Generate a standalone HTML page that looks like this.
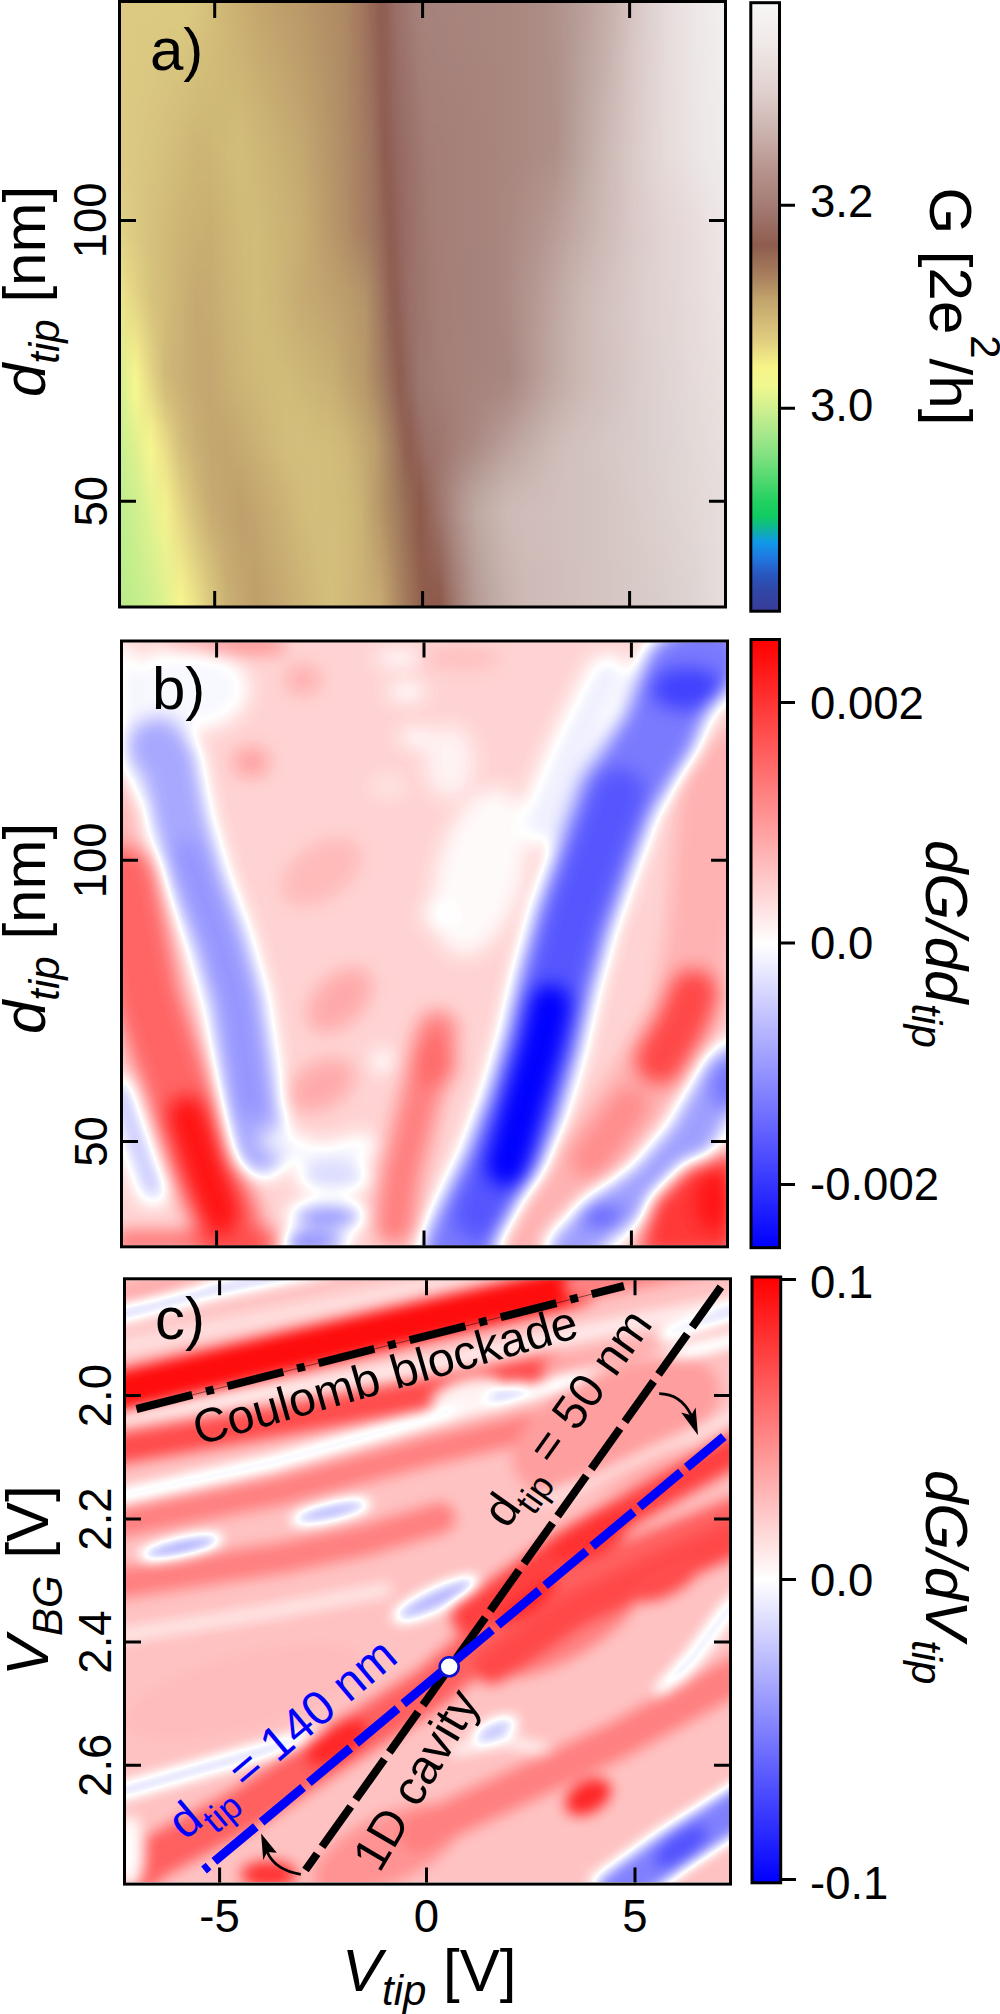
<!DOCTYPE html>
<html><head><meta charset="utf-8">
<style>
html,body{margin:0;padding:0;background:#fff;width:1000px;height:2014px;overflow:hidden}
svg{position:absolute;left:0;top:0}
text{font-family:"Liberation Sans",sans-serif;fill:#000}
.tl{font-size:45.5px}
.ti{font-size:60px}
.it{font-style:italic}
</style></head>
<body>
<svg width="1000" height="2014" viewBox="0 0 1000 2014">
<!-- HEATMAPS -->
<defs><linearGradient id="ga0"><stop offset="0.0000" stop-color="#dcca82"/><stop offset="0.0249" stop-color="#dcca82"/><stop offset="0.0498" stop-color="#dcca82"/><stop offset="0.0746" stop-color="#dcca82"/><stop offset="0.0995" stop-color="#dcca82"/><stop offset="0.1244" stop-color="#dac780"/><stop offset="0.1493" stop-color="#d4be7a"/><stop offset="0.1741" stop-color="#ceb675"/><stop offset="0.1990" stop-color="#c9ad71"/><stop offset="0.2239" stop-color="#c5a66d"/><stop offset="0.2488" stop-color="#c1a16b"/><stop offset="0.2736" stop-color="#bd9c6a"/><stop offset="0.2985" stop-color="#ba9868"/><stop offset="0.3234" stop-color="#b69266"/><stop offset="0.3483" stop-color="#b18d64"/><stop offset="0.3731" stop-color="#ad8762"/><stop offset="0.3964" stop-color="#a3795e"/><stop offset="0.4046" stop-color="#9f725b"/><stop offset="0.4129" stop-color="#9a6b59"/><stop offset="0.4212" stop-color="#956455"/><stop offset="0.4295" stop-color="#905d51"/><stop offset="0.4378" stop-color="#915f55"/><stop offset="0.4461" stop-color="#95675e"/><stop offset="0.4544" stop-color="#996e66"/><stop offset="0.4627" stop-color="#9c736b"/><stop offset="0.4710" stop-color="#9e7770"/><stop offset="0.4793" stop-color="#a17a74"/><stop offset="0.4876" stop-color="#a47e78"/><stop offset="0.4959" stop-color="#a6827c"/><stop offset="0.5041" stop-color="#a6827c"/><stop offset="0.5124" stop-color="#a6827c"/><stop offset="0.5207" stop-color="#a6837c"/><stop offset="0.5290" stop-color="#a6837c"/><stop offset="0.5373" stop-color="#a7837d"/><stop offset="0.5456" stop-color="#a7847d"/><stop offset="0.5622" stop-color="#a7847d"/><stop offset="0.5887" stop-color="#a7857d"/><stop offset="0.6153" stop-color="#a8867e"/><stop offset="0.6418" stop-color="#a9877f"/><stop offset="0.6683" stop-color="#aa8981"/><stop offset="0.6949" stop-color="#ac8c84"/><stop offset="0.7214" stop-color="#af928a"/><stop offset="0.7479" stop-color="#b39992"/><stop offset="0.7745" stop-color="#bba29c"/><stop offset="0.8010" stop-color="#c3aba7"/><stop offset="0.8275" stop-color="#cdb9b6"/><stop offset="0.8541" stop-color="#d7c7c5"/><stop offset="0.8806" stop-color="#dfd2d1"/><stop offset="0.9071" stop-color="#e6dcdc"/><stop offset="0.9337" stop-color="#eae2e2"/><stop offset="0.9602" stop-color="#eee8e8"/><stop offset="0.9867" stop-color="#f1ecec"/><stop offset="1.0000" stop-color="#f2eeee"/></linearGradient><linearGradient id="ga1"><stop offset="0.0000" stop-color="#dcca82"/><stop offset="0.0249" stop-color="#dcca82"/><stop offset="0.0498" stop-color="#dcc982"/><stop offset="0.0746" stop-color="#dbc982"/><stop offset="0.0995" stop-color="#dbc981"/><stop offset="0.1244" stop-color="#d9c57f"/><stop offset="0.1493" stop-color="#d3be79"/><stop offset="0.1741" stop-color="#ceb675"/><stop offset="0.1990" stop-color="#caaf71"/><stop offset="0.2239" stop-color="#c5a86e"/><stop offset="0.2488" stop-color="#c2a36c"/><stop offset="0.2736" stop-color="#be9e6a"/><stop offset="0.2985" stop-color="#bb9969"/><stop offset="0.3234" stop-color="#b69367"/><stop offset="0.3483" stop-color="#b28e65"/><stop offset="0.3731" stop-color="#ad8863"/><stop offset="0.3964" stop-color="#a3795e"/><stop offset="0.4046" stop-color="#9f735c"/><stop offset="0.4129" stop-color="#9a6c59"/><stop offset="0.4212" stop-color="#956556"/><stop offset="0.4295" stop-color="#905e52"/><stop offset="0.4378" stop-color="#905e55"/><stop offset="0.4461" stop-color="#94665d"/><stop offset="0.4544" stop-color="#996e65"/><stop offset="0.4627" stop-color="#9b726b"/><stop offset="0.4710" stop-color="#9e766f"/><stop offset="0.4793" stop-color="#a07a73"/><stop offset="0.4876" stop-color="#a37d77"/><stop offset="0.4959" stop-color="#a5817b"/><stop offset="0.5041" stop-color="#a6827b"/><stop offset="0.5124" stop-color="#a6827c"/><stop offset="0.5207" stop-color="#a6827c"/><stop offset="0.5290" stop-color="#a6837c"/><stop offset="0.5373" stop-color="#a6837c"/><stop offset="0.5456" stop-color="#a7837c"/><stop offset="0.5622" stop-color="#a7847d"/><stop offset="0.5887" stop-color="#a7857d"/><stop offset="0.6153" stop-color="#a8857e"/><stop offset="0.6418" stop-color="#a9877f"/><stop offset="0.6683" stop-color="#aa8981"/><stop offset="0.6949" stop-color="#ac8c84"/><stop offset="0.7214" stop-color="#af918a"/><stop offset="0.7479" stop-color="#b39993"/><stop offset="0.7745" stop-color="#bba29d"/><stop offset="0.8010" stop-color="#c4aca8"/><stop offset="0.8275" stop-color="#ceb9b6"/><stop offset="0.8541" stop-color="#d8c7c5"/><stop offset="0.8806" stop-color="#dfd2d1"/><stop offset="0.9071" stop-color="#e6dcdc"/><stop offset="0.9337" stop-color="#eae2e2"/><stop offset="0.9602" stop-color="#eee8e8"/><stop offset="0.9867" stop-color="#f1ecec"/><stop offset="1.0000" stop-color="#f2eeee"/></linearGradient><linearGradient id="ga2"><stop offset="0.0000" stop-color="#dcca82"/><stop offset="0.0249" stop-color="#dbc982"/><stop offset="0.0498" stop-color="#dbc981"/><stop offset="0.0746" stop-color="#dac881"/><stop offset="0.0995" stop-color="#dac780"/><stop offset="0.1244" stop-color="#d7c37d"/><stop offset="0.1493" stop-color="#d2bd79"/><stop offset="0.1741" stop-color="#cfb776"/><stop offset="0.1990" stop-color="#cbb173"/><stop offset="0.2239" stop-color="#c7aa6f"/><stop offset="0.2488" stop-color="#c3a56e"/><stop offset="0.2736" stop-color="#c0a06c"/><stop offset="0.2985" stop-color="#bc9b6a"/><stop offset="0.3234" stop-color="#b79567"/><stop offset="0.3483" stop-color="#b28f65"/><stop offset="0.3731" stop-color="#ae8863"/><stop offset="0.3964" stop-color="#a47a5f"/><stop offset="0.4046" stop-color="#a0745d"/><stop offset="0.4129" stop-color="#9b6d5a"/><stop offset="0.4212" stop-color="#966657"/><stop offset="0.4295" stop-color="#915f52"/><stop offset="0.4378" stop-color="#905e54"/><stop offset="0.4461" stop-color="#94655c"/><stop offset="0.4544" stop-color="#986c64"/><stop offset="0.4627" stop-color="#9b7169"/><stop offset="0.4710" stop-color="#9d756d"/><stop offset="0.4793" stop-color="#a07871"/><stop offset="0.4876" stop-color="#a27c75"/><stop offset="0.4959" stop-color="#a58079"/><stop offset="0.5041" stop-color="#a5817a"/><stop offset="0.5124" stop-color="#a6827b"/><stop offset="0.5207" stop-color="#a6827b"/><stop offset="0.5290" stop-color="#a6827b"/><stop offset="0.5373" stop-color="#a6827b"/><stop offset="0.5456" stop-color="#a6837c"/><stop offset="0.5622" stop-color="#a7837c"/><stop offset="0.5887" stop-color="#a7847d"/><stop offset="0.6153" stop-color="#a8857d"/><stop offset="0.6418" stop-color="#a9877f"/><stop offset="0.6683" stop-color="#aa8981"/><stop offset="0.6949" stop-color="#ac8c84"/><stop offset="0.7214" stop-color="#af918a"/><stop offset="0.7479" stop-color="#b49a93"/><stop offset="0.7745" stop-color="#bca39e"/><stop offset="0.8010" stop-color="#c5ada9"/><stop offset="0.8275" stop-color="#cebab7"/><stop offset="0.8541" stop-color="#d8c8c6"/><stop offset="0.8806" stop-color="#dfd2d1"/><stop offset="0.9071" stop-color="#e6dcdc"/><stop offset="0.9337" stop-color="#eae2e2"/><stop offset="0.9602" stop-color="#eee8e8"/><stop offset="0.9867" stop-color="#f0ecec"/><stop offset="1.0000" stop-color="#f2eeee"/></linearGradient><linearGradient id="ga3"><stop offset="0.0000" stop-color="#dcca82"/><stop offset="0.0249" stop-color="#dbc981"/><stop offset="0.0498" stop-color="#dac881"/><stop offset="0.0746" stop-color="#d9c680"/><stop offset="0.0995" stop-color="#d8c57f"/><stop offset="0.1244" stop-color="#d5c17c"/><stop offset="0.1493" stop-color="#d1bc78"/><stop offset="0.1741" stop-color="#cfb776"/><stop offset="0.1990" stop-color="#ccb374"/><stop offset="0.2239" stop-color="#c8ac71"/><stop offset="0.2488" stop-color="#c4a76f"/><stop offset="0.2736" stop-color="#c1a26d"/><stop offset="0.2985" stop-color="#bd9d6b"/><stop offset="0.3234" stop-color="#b89668"/><stop offset="0.3483" stop-color="#b39066"/><stop offset="0.3731" stop-color="#ae8964"/><stop offset="0.3964" stop-color="#a47b5f"/><stop offset="0.4046" stop-color="#a0755e"/><stop offset="0.4129" stop-color="#9c6f5b"/><stop offset="0.4212" stop-color="#976858"/><stop offset="0.4295" stop-color="#916053"/><stop offset="0.4378" stop-color="#905e53"/><stop offset="0.4461" stop-color="#93645b"/><stop offset="0.4544" stop-color="#976b63"/><stop offset="0.4627" stop-color="#9a7068"/><stop offset="0.4710" stop-color="#9c736c"/><stop offset="0.4793" stop-color="#9f7770"/><stop offset="0.4876" stop-color="#a17b74"/><stop offset="0.4959" stop-color="#a47e78"/><stop offset="0.5041" stop-color="#a58079"/><stop offset="0.5124" stop-color="#a5817a"/><stop offset="0.5207" stop-color="#a6817a"/><stop offset="0.5290" stop-color="#a6827b"/><stop offset="0.5373" stop-color="#a6827b"/><stop offset="0.5456" stop-color="#a6827b"/><stop offset="0.5622" stop-color="#a7837b"/><stop offset="0.5887" stop-color="#a7847c"/><stop offset="0.6153" stop-color="#a8857d"/><stop offset="0.6418" stop-color="#a9877f"/><stop offset="0.6683" stop-color="#aa8981"/><stop offset="0.6949" stop-color="#ac8c84"/><stop offset="0.7214" stop-color="#af9189"/><stop offset="0.7479" stop-color="#b49a94"/><stop offset="0.7745" stop-color="#bda59f"/><stop offset="0.8010" stop-color="#c6afab"/><stop offset="0.8275" stop-color="#cfbcb9"/><stop offset="0.8541" stop-color="#d9c9c7"/><stop offset="0.8806" stop-color="#e0d2d1"/><stop offset="0.9071" stop-color="#e6dcdb"/><stop offset="0.9337" stop-color="#eae2e1"/><stop offset="0.9602" stop-color="#ede8e8"/><stop offset="0.9867" stop-color="#f0ebeb"/><stop offset="1.0000" stop-color="#f1eded"/></linearGradient><linearGradient id="ga4"><stop offset="0.0000" stop-color="#dcca82"/><stop offset="0.0249" stop-color="#dbc981"/><stop offset="0.0498" stop-color="#dac781"/><stop offset="0.0746" stop-color="#d8c57f"/><stop offset="0.0995" stop-color="#d7c37d"/><stop offset="0.1244" stop-color="#d3be7a"/><stop offset="0.1493" stop-color="#d1bb78"/><stop offset="0.1741" stop-color="#cfb876"/><stop offset="0.1990" stop-color="#cdb575"/><stop offset="0.2239" stop-color="#c9af72"/><stop offset="0.2488" stop-color="#c6aa70"/><stop offset="0.2736" stop-color="#c2a56e"/><stop offset="0.2985" stop-color="#bf9f6c"/><stop offset="0.3234" stop-color="#b99869"/><stop offset="0.3483" stop-color="#b49167"/><stop offset="0.3731" stop-color="#ae8964"/><stop offset="0.3964" stop-color="#a57c60"/><stop offset="0.4046" stop-color="#a1765e"/><stop offset="0.4129" stop-color="#9d705c"/><stop offset="0.4212" stop-color="#986959"/><stop offset="0.4295" stop-color="#926154"/><stop offset="0.4378" stop-color="#8f5d53"/><stop offset="0.4461" stop-color="#93645a"/><stop offset="0.4544" stop-color="#966a61"/><stop offset="0.4627" stop-color="#996f67"/><stop offset="0.4710" stop-color="#9b726b"/><stop offset="0.4793" stop-color="#9e766e"/><stop offset="0.4876" stop-color="#a07972"/><stop offset="0.4959" stop-color="#a37d76"/><stop offset="0.5041" stop-color="#a47f78"/><stop offset="0.5124" stop-color="#a58079"/><stop offset="0.5207" stop-color="#a58179"/><stop offset="0.5290" stop-color="#a6817a"/><stop offset="0.5373" stop-color="#a6817a"/><stop offset="0.5456" stop-color="#a6827a"/><stop offset="0.5622" stop-color="#a6827b"/><stop offset="0.5887" stop-color="#a7837c"/><stop offset="0.6153" stop-color="#a8847d"/><stop offset="0.6418" stop-color="#a9867e"/><stop offset="0.6683" stop-color="#aa8981"/><stop offset="0.6949" stop-color="#ac8c84"/><stop offset="0.7214" stop-color="#ae9089"/><stop offset="0.7479" stop-color="#b59b94"/><stop offset="0.7745" stop-color="#bda6a1"/><stop offset="0.8010" stop-color="#c7b0ac"/><stop offset="0.8275" stop-color="#d0bdba"/><stop offset="0.8541" stop-color="#d9c9c7"/><stop offset="0.8806" stop-color="#e0d3d1"/><stop offset="0.9071" stop-color="#e6dcdb"/><stop offset="0.9337" stop-color="#eae2e1"/><stop offset="0.9602" stop-color="#ede7e7"/><stop offset="0.9867" stop-color="#f0ebeb"/><stop offset="1.0000" stop-color="#f1eded"/></linearGradient><linearGradient id="ga5"><stop offset="0.0000" stop-color="#dcca82"/><stop offset="0.0249" stop-color="#dbc881"/><stop offset="0.0498" stop-color="#d9c680"/><stop offset="0.0746" stop-color="#d7c47f"/><stop offset="0.0995" stop-color="#d5c07c"/><stop offset="0.1244" stop-color="#d2bc79"/><stop offset="0.1493" stop-color="#d0ba77"/><stop offset="0.1741" stop-color="#cfb977"/><stop offset="0.1990" stop-color="#ceb776"/><stop offset="0.2239" stop-color="#cbb174"/><stop offset="0.2488" stop-color="#c7ac71"/><stop offset="0.2736" stop-color="#c4a76f"/><stop offset="0.2985" stop-color="#c0a16d"/><stop offset="0.3234" stop-color="#ba9a6a"/><stop offset="0.3483" stop-color="#b49267"/><stop offset="0.3731" stop-color="#ae8a65"/><stop offset="0.3964" stop-color="#a57c61"/><stop offset="0.4046" stop-color="#a1775f"/><stop offset="0.4129" stop-color="#9d725d"/><stop offset="0.4212" stop-color="#986a5a"/><stop offset="0.4295" stop-color="#936254"/><stop offset="0.4378" stop-color="#8f5d52"/><stop offset="0.4461" stop-color="#926359"/><stop offset="0.4544" stop-color="#966960"/><stop offset="0.4627" stop-color="#986d66"/><stop offset="0.4710" stop-color="#9b7169"/><stop offset="0.4793" stop-color="#9d746d"/><stop offset="0.4876" stop-color="#9f7870"/><stop offset="0.4959" stop-color="#a27b74"/><stop offset="0.5041" stop-color="#a37e76"/><stop offset="0.5124" stop-color="#a58078"/><stop offset="0.5207" stop-color="#a58079"/><stop offset="0.5290" stop-color="#a58079"/><stop offset="0.5373" stop-color="#a68179"/><stop offset="0.5456" stop-color="#a6817a"/><stop offset="0.5622" stop-color="#a6827a"/><stop offset="0.5887" stop-color="#a7837b"/><stop offset="0.6153" stop-color="#a8847c"/><stop offset="0.6418" stop-color="#a9867e"/><stop offset="0.6683" stop-color="#aa8981"/><stop offset="0.6949" stop-color="#ac8c84"/><stop offset="0.7214" stop-color="#ae9088"/><stop offset="0.7479" stop-color="#b59b95"/><stop offset="0.7745" stop-color="#bea7a2"/><stop offset="0.8010" stop-color="#c8b2ae"/><stop offset="0.8275" stop-color="#d1bebb"/><stop offset="0.8541" stop-color="#dacac8"/><stop offset="0.8806" stop-color="#e0d3d1"/><stop offset="0.9071" stop-color="#e6dcdb"/><stop offset="0.9337" stop-color="#e9e2e1"/><stop offset="0.9602" stop-color="#ede7e7"/><stop offset="0.9867" stop-color="#efebeb"/><stop offset="1.0000" stop-color="#f1eded"/></linearGradient><linearGradient id="ga6"><stop offset="0.0000" stop-color="#dcca82"/><stop offset="0.0249" stop-color="#dac881"/><stop offset="0.0498" stop-color="#d9c580"/><stop offset="0.0746" stop-color="#d6c27e"/><stop offset="0.0995" stop-color="#d4be7b"/><stop offset="0.1244" stop-color="#d0ba78"/><stop offset="0.1493" stop-color="#cfb977"/><stop offset="0.1741" stop-color="#cfb977"/><stop offset="0.1990" stop-color="#d0ba78"/><stop offset="0.2239" stop-color="#ccb475"/><stop offset="0.2488" stop-color="#c8ae73"/><stop offset="0.2736" stop-color="#c5a970"/><stop offset="0.2985" stop-color="#c1a36e"/><stop offset="0.3234" stop-color="#bb9b6b"/><stop offset="0.3483" stop-color="#b59368"/><stop offset="0.3731" stop-color="#af8a65"/><stop offset="0.3964" stop-color="#a57d61"/><stop offset="0.4046" stop-color="#a27860"/><stop offset="0.4129" stop-color="#9e735f"/><stop offset="0.4212" stop-color="#996c5b"/><stop offset="0.4295" stop-color="#936355"/><stop offset="0.4378" stop-color="#8f5d51"/><stop offset="0.4461" stop-color="#926258"/><stop offset="0.4544" stop-color="#95685f"/><stop offset="0.4627" stop-color="#976c64"/><stop offset="0.4710" stop-color="#9a7068"/><stop offset="0.4793" stop-color="#9c736b"/><stop offset="0.4876" stop-color="#9f776f"/><stop offset="0.4959" stop-color="#a17a72"/><stop offset="0.5041" stop-color="#a37d75"/><stop offset="0.5124" stop-color="#a57f78"/><stop offset="0.5207" stop-color="#a57f78"/><stop offset="0.5290" stop-color="#a58078"/><stop offset="0.5373" stop-color="#a58079"/><stop offset="0.5456" stop-color="#a68179"/><stop offset="0.5622" stop-color="#a6817a"/><stop offset="0.5887" stop-color="#a7837b"/><stop offset="0.6153" stop-color="#a8847c"/><stop offset="0.6418" stop-color="#a9867e"/><stop offset="0.6683" stop-color="#aa8981"/><stop offset="0.6949" stop-color="#ac8c84"/><stop offset="0.7214" stop-color="#ae9088"/><stop offset="0.7479" stop-color="#b59c95"/><stop offset="0.7745" stop-color="#bfa8a3"/><stop offset="0.8010" stop-color="#c9b4af"/><stop offset="0.8275" stop-color="#d2bfbc"/><stop offset="0.8541" stop-color="#dacac8"/><stop offset="0.8806" stop-color="#e0d3d1"/><stop offset="0.9071" stop-color="#e6dcda"/><stop offset="0.9337" stop-color="#e9e1e1"/><stop offset="0.9602" stop-color="#ede7e7"/><stop offset="0.9867" stop-color="#efebeb"/><stop offset="1.0000" stop-color="#f0ecec"/></linearGradient><linearGradient id="ga7"><stop offset="0.0000" stop-color="#dcca82"/><stop offset="0.0249" stop-color="#dac781"/><stop offset="0.0498" stop-color="#d8c57f"/><stop offset="0.0746" stop-color="#d5c17d"/><stop offset="0.0995" stop-color="#d2bc7a"/><stop offset="0.1244" stop-color="#ceb776"/><stop offset="0.1493" stop-color="#ceb876"/><stop offset="0.1741" stop-color="#d0ba78"/><stop offset="0.1990" stop-color="#d1bc79"/><stop offset="0.2239" stop-color="#cdb676"/><stop offset="0.2488" stop-color="#cab174"/><stop offset="0.2736" stop-color="#c6ab71"/><stop offset="0.2985" stop-color="#c2a66f"/><stop offset="0.3234" stop-color="#bc9d6c"/><stop offset="0.3483" stop-color="#b69469"/><stop offset="0.3731" stop-color="#af8b65"/><stop offset="0.3964" stop-color="#a67e62"/><stop offset="0.4046" stop-color="#a27961"/><stop offset="0.4129" stop-color="#9f7560"/><stop offset="0.4212" stop-color="#9a6d5b"/><stop offset="0.4295" stop-color="#946456"/><stop offset="0.4378" stop-color="#8e5c51"/><stop offset="0.4461" stop-color="#916157"/><stop offset="0.4544" stop-color="#94665d"/><stop offset="0.4627" stop-color="#976b63"/><stop offset="0.4710" stop-color="#996e66"/><stop offset="0.4793" stop-color="#9b726a"/><stop offset="0.4876" stop-color="#9e756d"/><stop offset="0.4959" stop-color="#a07971"/><stop offset="0.5041" stop-color="#a27c74"/><stop offset="0.5124" stop-color="#a47f77"/><stop offset="0.5207" stop-color="#a57f77"/><stop offset="0.5290" stop-color="#a57f77"/><stop offset="0.5373" stop-color="#a58078"/><stop offset="0.5456" stop-color="#a58078"/><stop offset="0.5622" stop-color="#a68179"/><stop offset="0.5887" stop-color="#a7827a"/><stop offset="0.6153" stop-color="#a8847c"/><stop offset="0.6418" stop-color="#a9867e"/><stop offset="0.6683" stop-color="#aa8981"/><stop offset="0.6949" stop-color="#ac8c84"/><stop offset="0.7214" stop-color="#ae8f88"/><stop offset="0.7479" stop-color="#b69c96"/><stop offset="0.7745" stop-color="#c0a9a4"/><stop offset="0.8010" stop-color="#cab5b1"/><stop offset="0.8275" stop-color="#d3c0bd"/><stop offset="0.8541" stop-color="#dbcbc9"/><stop offset="0.8806" stop-color="#e1d4d2"/><stop offset="0.9071" stop-color="#e6dcda"/><stop offset="0.9337" stop-color="#e9e1e0"/><stop offset="0.9602" stop-color="#ece6e6"/><stop offset="0.9867" stop-color="#efeaea"/><stop offset="1.0000" stop-color="#f0ecec"/></linearGradient><linearGradient id="ga8"><stop offset="0.0000" stop-color="#dcca82"/><stop offset="0.0249" stop-color="#dac780"/><stop offset="0.0498" stop-color="#d7c47f"/><stop offset="0.0746" stop-color="#d4c07c"/><stop offset="0.0995" stop-color="#d1ba79"/><stop offset="0.1244" stop-color="#cdb575"/><stop offset="0.1493" stop-color="#cdb675"/><stop offset="0.1741" stop-color="#d0ba78"/><stop offset="0.1990" stop-color="#d2be7a"/><stop offset="0.2239" stop-color="#ceb877"/><stop offset="0.2488" stop-color="#cbb375"/><stop offset="0.2736" stop-color="#c7ad72"/><stop offset="0.2985" stop-color="#c4a870"/><stop offset="0.3234" stop-color="#bd9e6c"/><stop offset="0.3483" stop-color="#b69569"/><stop offset="0.3731" stop-color="#af8b66"/><stop offset="0.3964" stop-color="#a67f63"/><stop offset="0.4046" stop-color="#a37a62"/><stop offset="0.4129" stop-color="#9f7660"/><stop offset="0.4212" stop-color="#9a6f5c"/><stop offset="0.4295" stop-color="#946556"/><stop offset="0.4378" stop-color="#8e5c50"/><stop offset="0.4461" stop-color="#906056"/><stop offset="0.4544" stop-color="#93655c"/><stop offset="0.4627" stop-color="#966a62"/><stop offset="0.4710" stop-color="#986d65"/><stop offset="0.4793" stop-color="#9b7169"/><stop offset="0.4876" stop-color="#9d746c"/><stop offset="0.4959" stop-color="#9f776f"/><stop offset="0.5041" stop-color="#a27b73"/><stop offset="0.5124" stop-color="#a47e76"/><stop offset="0.5207" stop-color="#a47e76"/><stop offset="0.5290" stop-color="#a57f77"/><stop offset="0.5373" stop-color="#a57f77"/><stop offset="0.5456" stop-color="#a58078"/><stop offset="0.5622" stop-color="#a68179"/><stop offset="0.5887" stop-color="#a7827a"/><stop offset="0.6153" stop-color="#a8837b"/><stop offset="0.6418" stop-color="#a9867e"/><stop offset="0.6683" stop-color="#ab8981"/><stop offset="0.6949" stop-color="#ac8c84"/><stop offset="0.7214" stop-color="#ae9088"/><stop offset="0.7479" stop-color="#b69d97"/><stop offset="0.7745" stop-color="#c1aaa5"/><stop offset="0.8010" stop-color="#cbb7b2"/><stop offset="0.8275" stop-color="#d3c1be"/><stop offset="0.8541" stop-color="#dbcbc9"/><stop offset="0.8806" stop-color="#e1d4d2"/><stop offset="0.9071" stop-color="#e6dcda"/><stop offset="0.9337" stop-color="#e9e1e0"/><stop offset="0.9602" stop-color="#ece6e6"/><stop offset="0.9867" stop-color="#efeaea"/><stop offset="1.0000" stop-color="#f0ecec"/></linearGradient><linearGradient id="ga9"><stop offset="0.0000" stop-color="#ddcc83"/><stop offset="0.0249" stop-color="#dac781"/><stop offset="0.0498" stop-color="#d7c37e"/><stop offset="0.0746" stop-color="#d3be7b"/><stop offset="0.0995" stop-color="#d0b977"/><stop offset="0.1244" stop-color="#ccb474"/><stop offset="0.1493" stop-color="#ccb474"/><stop offset="0.1741" stop-color="#cfb977"/><stop offset="0.1990" stop-color="#d1bd79"/><stop offset="0.2239" stop-color="#cfb978"/><stop offset="0.2488" stop-color="#ccb475"/><stop offset="0.2736" stop-color="#c8af73"/><stop offset="0.2985" stop-color="#c5a970"/><stop offset="0.3234" stop-color="#be9f6d"/><stop offset="0.3483" stop-color="#b79669"/><stop offset="0.3731" stop-color="#b08c66"/><stop offset="0.3964" stop-color="#a77f63"/><stop offset="0.4046" stop-color="#a37b62"/><stop offset="0.4129" stop-color="#a07661"/><stop offset="0.4212" stop-color="#9b705d"/><stop offset="0.4295" stop-color="#956757"/><stop offset="0.4378" stop-color="#8f5e51"/><stop offset="0.4461" stop-color="#8f5f54"/><stop offset="0.4544" stop-color="#92645a"/><stop offset="0.4627" stop-color="#956961"/><stop offset="0.4710" stop-color="#986d65"/><stop offset="0.4793" stop-color="#9a7068"/><stop offset="0.4876" stop-color="#9d736b"/><stop offset="0.4959" stop-color="#9f776f"/><stop offset="0.5041" stop-color="#a17a72"/><stop offset="0.5124" stop-color="#a37d75"/><stop offset="0.5207" stop-color="#a47e76"/><stop offset="0.5290" stop-color="#a47f77"/><stop offset="0.5373" stop-color="#a57f77"/><stop offset="0.5456" stop-color="#a58078"/><stop offset="0.5622" stop-color="#a68179"/><stop offset="0.5887" stop-color="#a7827a"/><stop offset="0.6153" stop-color="#a8847c"/><stop offset="0.6418" stop-color="#a9867f"/><stop offset="0.6683" stop-color="#ac8a83"/><stop offset="0.6949" stop-color="#ae8e87"/><stop offset="0.7214" stop-color="#b1938c"/><stop offset="0.7479" stop-color="#b9a09a"/><stop offset="0.7745" stop-color="#c2aca7"/><stop offset="0.8010" stop-color="#ccb7b3"/><stop offset="0.8275" stop-color="#d3c1be"/><stop offset="0.8541" stop-color="#dbcbc9"/><stop offset="0.8806" stop-color="#e0d3d1"/><stop offset="0.9071" stop-color="#e5dad8"/><stop offset="0.9337" stop-color="#e8dfde"/><stop offset="0.9602" stop-color="#ebe4e4"/><stop offset="0.9867" stop-color="#eee8e8"/><stop offset="1.0000" stop-color="#efeaea"/></linearGradient><linearGradient id="ga10"><stop offset="0.0000" stop-color="#decd83"/><stop offset="0.0249" stop-color="#dac881"/><stop offset="0.0498" stop-color="#d6c27e"/><stop offset="0.0746" stop-color="#d3bd7a"/><stop offset="0.0995" stop-color="#cfb776"/><stop offset="0.1244" stop-color="#ccb373"/><stop offset="0.1493" stop-color="#cbb273"/><stop offset="0.1741" stop-color="#ceb776"/><stop offset="0.1990" stop-color="#d1bc79"/><stop offset="0.2239" stop-color="#d0ba78"/><stop offset="0.2488" stop-color="#ccb576"/><stop offset="0.2736" stop-color="#c9b073"/><stop offset="0.2985" stop-color="#c6ab71"/><stop offset="0.3234" stop-color="#bfa16d"/><stop offset="0.3483" stop-color="#b89669"/><stop offset="0.3731" stop-color="#b18c66"/><stop offset="0.3964" stop-color="#a78063"/><stop offset="0.4046" stop-color="#a47b62"/><stop offset="0.4129" stop-color="#a07761"/><stop offset="0.4212" stop-color="#9c715e"/><stop offset="0.4295" stop-color="#966858"/><stop offset="0.4378" stop-color="#906053"/><stop offset="0.4461" stop-color="#8e5e53"/><stop offset="0.4544" stop-color="#926359"/><stop offset="0.4627" stop-color="#95685f"/><stop offset="0.4710" stop-color="#986d65"/><stop offset="0.4793" stop-color="#9a7068"/><stop offset="0.4876" stop-color="#9c736b"/><stop offset="0.4959" stop-color="#9f766e"/><stop offset="0.5041" stop-color="#a17971"/><stop offset="0.5124" stop-color="#a37c74"/><stop offset="0.5207" stop-color="#a47e76"/><stop offset="0.5290" stop-color="#a47f77"/><stop offset="0.5373" stop-color="#a57f77"/><stop offset="0.5456" stop-color="#a58078"/><stop offset="0.5622" stop-color="#a68179"/><stop offset="0.5887" stop-color="#a7827b"/><stop offset="0.6153" stop-color="#a8847c"/><stop offset="0.6418" stop-color="#aa8780"/><stop offset="0.6683" stop-color="#ad8c84"/><stop offset="0.6949" stop-color="#b09089"/><stop offset="0.7214" stop-color="#b49790"/><stop offset="0.7479" stop-color="#bba29d"/><stop offset="0.7745" stop-color="#c4aea9"/><stop offset="0.8010" stop-color="#ccb8b4"/><stop offset="0.8275" stop-color="#d4c1be"/><stop offset="0.8541" stop-color="#dbcbc8"/><stop offset="0.8806" stop-color="#e0d2d0"/><stop offset="0.9071" stop-color="#e4d8d6"/><stop offset="0.9337" stop-color="#e7dddc"/><stop offset="0.9602" stop-color="#eae2e2"/><stop offset="0.9867" stop-color="#ede7e6"/><stop offset="1.0000" stop-color="#efe9e9"/></linearGradient><linearGradient id="ga11"><stop offset="0.0000" stop-color="#dfcf84"/><stop offset="0.0249" stop-color="#dac881"/><stop offset="0.0498" stop-color="#d5c27d"/><stop offset="0.0746" stop-color="#d2bb79"/><stop offset="0.0995" stop-color="#ceb575"/><stop offset="0.1244" stop-color="#cbb273"/><stop offset="0.1493" stop-color="#c9b071"/><stop offset="0.1741" stop-color="#cdb675"/><stop offset="0.1990" stop-color="#d0bb78"/><stop offset="0.2239" stop-color="#d0bb79"/><stop offset="0.2488" stop-color="#cdb676"/><stop offset="0.2736" stop-color="#cab174"/><stop offset="0.2985" stop-color="#c7ac71"/><stop offset="0.3234" stop-color="#c0a26d"/><stop offset="0.3483" stop-color="#b9976a"/><stop offset="0.3731" stop-color="#b28d66"/><stop offset="0.3964" stop-color="#a88063"/><stop offset="0.4046" stop-color="#a47c62"/><stop offset="0.4129" stop-color="#a17761"/><stop offset="0.4212" stop-color="#9c725e"/><stop offset="0.4295" stop-color="#976a59"/><stop offset="0.4378" stop-color="#916254"/><stop offset="0.4461" stop-color="#8d5d51"/><stop offset="0.4544" stop-color="#916258"/><stop offset="0.4627" stop-color="#94675e"/><stop offset="0.4710" stop-color="#986c64"/><stop offset="0.4793" stop-color="#9a6f67"/><stop offset="0.4876" stop-color="#9c726a"/><stop offset="0.4959" stop-color="#9e756d"/><stop offset="0.5041" stop-color="#a07971"/><stop offset="0.5124" stop-color="#a27c74"/><stop offset="0.5207" stop-color="#a47e76"/><stop offset="0.5290" stop-color="#a47f77"/><stop offset="0.5373" stop-color="#a57f77"/><stop offset="0.5456" stop-color="#a58078"/><stop offset="0.5622" stop-color="#a68179"/><stop offset="0.5887" stop-color="#a7827b"/><stop offset="0.6153" stop-color="#a8847d"/><stop offset="0.6418" stop-color="#aa8880"/><stop offset="0.6683" stop-color="#ae8d86"/><stop offset="0.6949" stop-color="#b1928c"/><stop offset="0.7214" stop-color="#b69a94"/><stop offset="0.7479" stop-color="#bea5a0"/><stop offset="0.7745" stop-color="#c6afab"/><stop offset="0.8010" stop-color="#cdb9b5"/><stop offset="0.8275" stop-color="#d4c1bf"/><stop offset="0.8541" stop-color="#dbcac8"/><stop offset="0.8806" stop-color="#dfd1cf"/><stop offset="0.9071" stop-color="#e3d6d5"/><stop offset="0.9337" stop-color="#e6dbda"/><stop offset="0.9602" stop-color="#eae0e0"/><stop offset="0.9867" stop-color="#ede5e5"/><stop offset="1.0000" stop-color="#eee7e7"/></linearGradient><linearGradient id="ga12"><stop offset="0.0000" stop-color="#e1d184"/><stop offset="0.0249" stop-color="#dac981"/><stop offset="0.0498" stop-color="#d5c17d"/><stop offset="0.0746" stop-color="#d1ba78"/><stop offset="0.0995" stop-color="#cdb474"/><stop offset="0.1244" stop-color="#cab072"/><stop offset="0.1493" stop-color="#c8ae70"/><stop offset="0.1741" stop-color="#ccb474"/><stop offset="0.1990" stop-color="#d0ba78"/><stop offset="0.2239" stop-color="#d1bc79"/><stop offset="0.2488" stop-color="#ceb777"/><stop offset="0.2736" stop-color="#cbb274"/><stop offset="0.2985" stop-color="#c7ad72"/><stop offset="0.3234" stop-color="#c1a36e"/><stop offset="0.3483" stop-color="#ba986a"/><stop offset="0.3731" stop-color="#b38e66"/><stop offset="0.3964" stop-color="#a98163"/><stop offset="0.4046" stop-color="#a57d62"/><stop offset="0.4129" stop-color="#a17861"/><stop offset="0.4212" stop-color="#9d735f"/><stop offset="0.4295" stop-color="#986c5a"/><stop offset="0.4378" stop-color="#926455"/><stop offset="0.4461" stop-color="#8c5c50"/><stop offset="0.4544" stop-color="#906157"/><stop offset="0.4627" stop-color="#94675d"/><stop offset="0.4710" stop-color="#986c64"/><stop offset="0.4793" stop-color="#9a6f67"/><stop offset="0.4876" stop-color="#9c726a"/><stop offset="0.4959" stop-color="#9e756d"/><stop offset="0.5041" stop-color="#a07870"/><stop offset="0.5124" stop-color="#a27b73"/><stop offset="0.5207" stop-color="#a47e76"/><stop offset="0.5290" stop-color="#a47f77"/><stop offset="0.5373" stop-color="#a57f77"/><stop offset="0.5456" stop-color="#a58078"/><stop offset="0.5622" stop-color="#a68179"/><stop offset="0.5887" stop-color="#a7827b"/><stop offset="0.6153" stop-color="#a8847d"/><stop offset="0.6418" stop-color="#aa8881"/><stop offset="0.6683" stop-color="#af8e88"/><stop offset="0.6949" stop-color="#b3948e"/><stop offset="0.7214" stop-color="#b99d98"/><stop offset="0.7479" stop-color="#c0a7a3"/><stop offset="0.7745" stop-color="#c7b1ad"/><stop offset="0.8010" stop-color="#cebab6"/><stop offset="0.8275" stop-color="#d4c2bf"/><stop offset="0.8541" stop-color="#dacac8"/><stop offset="0.8806" stop-color="#dfd0ce"/><stop offset="0.9071" stop-color="#e2d5d3"/><stop offset="0.9337" stop-color="#e5dad9"/><stop offset="0.9602" stop-color="#e9dfde"/><stop offset="0.9867" stop-color="#ece3e3"/><stop offset="1.0000" stop-color="#eee6e6"/></linearGradient><linearGradient id="ga13"><stop offset="0.0000" stop-color="#e4d786"/><stop offset="0.0249" stop-color="#ddcc82"/><stop offset="0.0498" stop-color="#d6c17d"/><stop offset="0.0746" stop-color="#d1ba78"/><stop offset="0.0995" stop-color="#ccb374"/><stop offset="0.1244" stop-color="#c9ae72"/><stop offset="0.1493" stop-color="#c8ad71"/><stop offset="0.1741" stop-color="#ccb474"/><stop offset="0.1990" stop-color="#cfba78"/><stop offset="0.2239" stop-color="#d1bc79"/><stop offset="0.2488" stop-color="#ceb877"/><stop offset="0.2736" stop-color="#cbb274"/><stop offset="0.2985" stop-color="#c7ac72"/><stop offset="0.3234" stop-color="#c1a46e"/><stop offset="0.3483" stop-color="#bc9b6b"/><stop offset="0.3731" stop-color="#b59268"/><stop offset="0.3964" stop-color="#ad8865"/><stop offset="0.4046" stop-color="#aa8465"/><stop offset="0.4129" stop-color="#a57e63"/><stop offset="0.4212" stop-color="#a07760"/><stop offset="0.4295" stop-color="#9a6f5c"/><stop offset="0.4378" stop-color="#946757"/><stop offset="0.4461" stop-color="#8e5e51"/><stop offset="0.4544" stop-color="#8f6055"/><stop offset="0.4627" stop-color="#93665c"/><stop offset="0.4710" stop-color="#976b63"/><stop offset="0.4793" stop-color="#9a6f67"/><stop offset="0.4876" stop-color="#9c726a"/><stop offset="0.4959" stop-color="#9e756d"/><stop offset="0.5041" stop-color="#a07870"/><stop offset="0.5124" stop-color="#a27a72"/><stop offset="0.5207" stop-color="#a37d75"/><stop offset="0.5290" stop-color="#a47e76"/><stop offset="0.5373" stop-color="#a57f77"/><stop offset="0.5456" stop-color="#a57f78"/><stop offset="0.5622" stop-color="#a58179"/><stop offset="0.5887" stop-color="#a6827b"/><stop offset="0.6153" stop-color="#a7847d"/><stop offset="0.6418" stop-color="#aa8982"/><stop offset="0.6683" stop-color="#af9089"/><stop offset="0.6949" stop-color="#b49791"/><stop offset="0.7214" stop-color="#bba09b"/><stop offset="0.7479" stop-color="#c3aba6"/><stop offset="0.7745" stop-color="#c9b4b0"/><stop offset="0.8010" stop-color="#cfbcb8"/><stop offset="0.8275" stop-color="#d5c3c1"/><stop offset="0.8541" stop-color="#dbcbc9"/><stop offset="0.8806" stop-color="#ded0ce"/><stop offset="0.9071" stop-color="#e2d5d4"/><stop offset="0.9337" stop-color="#e5dad9"/><stop offset="0.9602" stop-color="#e8dede"/><stop offset="0.9867" stop-color="#ece3e3"/><stop offset="1.0000" stop-color="#ede5e5"/></linearGradient><linearGradient id="ga14"><stop offset="0.0000" stop-color="#e8dc88"/><stop offset="0.0249" stop-color="#dfcf83"/><stop offset="0.0498" stop-color="#d6c27c"/><stop offset="0.0746" stop-color="#d1ba78"/><stop offset="0.0995" stop-color="#ccb274"/><stop offset="0.1244" stop-color="#c7ac71"/><stop offset="0.1493" stop-color="#c7ac71"/><stop offset="0.1741" stop-color="#cbb375"/><stop offset="0.1990" stop-color="#cfb978"/><stop offset="0.2239" stop-color="#d1bc79"/><stop offset="0.2488" stop-color="#ceb877"/><stop offset="0.2736" stop-color="#cab275"/><stop offset="0.2985" stop-color="#c6ab72"/><stop offset="0.3234" stop-color="#c2a56f"/><stop offset="0.3483" stop-color="#bd9e6c"/><stop offset="0.3731" stop-color="#b89769"/><stop offset="0.3964" stop-color="#b18e68"/><stop offset="0.4046" stop-color="#ae8b67"/><stop offset="0.4129" stop-color="#a98364"/><stop offset="0.4212" stop-color="#a37c62"/><stop offset="0.4295" stop-color="#9d735e"/><stop offset="0.4378" stop-color="#966958"/><stop offset="0.4461" stop-color="#8f6052"/><stop offset="0.4544" stop-color="#8f6054"/><stop offset="0.4627" stop-color="#93655b"/><stop offset="0.4710" stop-color="#976b62"/><stop offset="0.4793" stop-color="#9a7068"/><stop offset="0.4876" stop-color="#9c726a"/><stop offset="0.4959" stop-color="#9e756d"/><stop offset="0.5041" stop-color="#9f776f"/><stop offset="0.5124" stop-color="#a17a72"/><stop offset="0.5207" stop-color="#a37d75"/><stop offset="0.5290" stop-color="#a47e76"/><stop offset="0.5373" stop-color="#a47f77"/><stop offset="0.5456" stop-color="#a57f78"/><stop offset="0.5622" stop-color="#a58079"/><stop offset="0.5887" stop-color="#a6827b"/><stop offset="0.6153" stop-color="#a7847d"/><stop offset="0.6418" stop-color="#ab8982"/><stop offset="0.6683" stop-color="#b0918b"/><stop offset="0.6949" stop-color="#b69993"/><stop offset="0.7214" stop-color="#bda39e"/><stop offset="0.7479" stop-color="#c5aea9"/><stop offset="0.7745" stop-color="#cbb7b3"/><stop offset="0.8010" stop-color="#d1bebb"/><stop offset="0.8275" stop-color="#d6c5c2"/><stop offset="0.8541" stop-color="#dbccc9"/><stop offset="0.8806" stop-color="#ded1cf"/><stop offset="0.9071" stop-color="#e2d5d4"/><stop offset="0.9337" stop-color="#e5dad9"/><stop offset="0.9602" stop-color="#e8dedd"/><stop offset="0.9867" stop-color="#ebe3e2"/><stop offset="1.0000" stop-color="#ede5e5"/></linearGradient><linearGradient id="ga15"><stop offset="0.0000" stop-color="#ece289"/><stop offset="0.0249" stop-color="#e2d283"/><stop offset="0.0498" stop-color="#d7c27c"/><stop offset="0.0746" stop-color="#d1ba77"/><stop offset="0.0995" stop-color="#cbb274"/><stop offset="0.1244" stop-color="#c6a971"/><stop offset="0.1493" stop-color="#c7ab72"/><stop offset="0.1741" stop-color="#cbb275"/><stop offset="0.1990" stop-color="#ceb877"/><stop offset="0.2239" stop-color="#d1bd79"/><stop offset="0.2488" stop-color="#cfb878"/><stop offset="0.2736" stop-color="#cab175"/><stop offset="0.2985" stop-color="#c6aa72"/><stop offset="0.3234" stop-color="#c3a66f"/><stop offset="0.3483" stop-color="#bfa16d"/><stop offset="0.3731" stop-color="#bb9c6b"/><stop offset="0.3964" stop-color="#b5946a"/><stop offset="0.4046" stop-color="#b29269"/><stop offset="0.4129" stop-color="#ac8966"/><stop offset="0.4212" stop-color="#a68063"/><stop offset="0.4295" stop-color="#9f775f"/><stop offset="0.4378" stop-color="#986c59"/><stop offset="0.4461" stop-color="#906253"/><stop offset="0.4544" stop-color="#8e5f53"/><stop offset="0.4627" stop-color="#92645a"/><stop offset="0.4710" stop-color="#966a61"/><stop offset="0.4793" stop-color="#9a7068"/><stop offset="0.4876" stop-color="#9c726a"/><stop offset="0.4959" stop-color="#9d756d"/><stop offset="0.5041" stop-color="#9f776f"/><stop offset="0.5124" stop-color="#a17a72"/><stop offset="0.5207" stop-color="#a37c74"/><stop offset="0.5290" stop-color="#a47e76"/><stop offset="0.5373" stop-color="#a47f77"/><stop offset="0.5456" stop-color="#a57f77"/><stop offset="0.5622" stop-color="#a58079"/><stop offset="0.5887" stop-color="#a6827b"/><stop offset="0.6153" stop-color="#a7847d"/><stop offset="0.6418" stop-color="#ab8983"/><stop offset="0.6683" stop-color="#b1928c"/><stop offset="0.6949" stop-color="#b79b95"/><stop offset="0.7214" stop-color="#bfa6a1"/><stop offset="0.7479" stop-color="#c7b1ad"/><stop offset="0.7745" stop-color="#cdbab6"/><stop offset="0.8010" stop-color="#d2c0bd"/><stop offset="0.8275" stop-color="#d6c6c3"/><stop offset="0.8541" stop-color="#dbccca"/><stop offset="0.8806" stop-color="#ded1cf"/><stop offset="0.9071" stop-color="#e1d5d4"/><stop offset="0.9337" stop-color="#e4dad9"/><stop offset="0.9602" stop-color="#e8dedd"/><stop offset="0.9867" stop-color="#ebe2e2"/><stop offset="1.0000" stop-color="#ece4e4"/></linearGradient><linearGradient id="ga16"><stop offset="0.0000" stop-color="#eae68b"/><stop offset="0.0249" stop-color="#e6d986"/><stop offset="0.0498" stop-color="#d9c57e"/><stop offset="0.0746" stop-color="#d1ba77"/><stop offset="0.0995" stop-color="#cbb174"/><stop offset="0.1244" stop-color="#c5a871"/><stop offset="0.1493" stop-color="#c6aa72"/><stop offset="0.1741" stop-color="#cab175"/><stop offset="0.1990" stop-color="#ceb777"/><stop offset="0.2239" stop-color="#d1bc79"/><stop offset="0.2488" stop-color="#cfb978"/><stop offset="0.2736" stop-color="#cbb376"/><stop offset="0.2985" stop-color="#c7ac73"/><stop offset="0.3234" stop-color="#c4a871"/><stop offset="0.3483" stop-color="#c1a46e"/><stop offset="0.3731" stop-color="#bc9e6c"/><stop offset="0.3964" stop-color="#b7976a"/><stop offset="0.4046" stop-color="#b5956a"/><stop offset="0.4129" stop-color="#ae8c67"/><stop offset="0.4212" stop-color="#a88263"/><stop offset="0.4295" stop-color="#a17960"/><stop offset="0.4378" stop-color="#9a6f5b"/><stop offset="0.4461" stop-color="#926455"/><stop offset="0.4544" stop-color="#8e5f53"/><stop offset="0.4627" stop-color="#916358"/><stop offset="0.4710" stop-color="#956960"/><stop offset="0.4793" stop-color="#996f67"/><stop offset="0.4876" stop-color="#9b726a"/><stop offset="0.4959" stop-color="#9d756d"/><stop offset="0.5041" stop-color="#9f776f"/><stop offset="0.5124" stop-color="#a07a72"/><stop offset="0.5207" stop-color="#a27c74"/><stop offset="0.5290" stop-color="#a47e76"/><stop offset="0.5373" stop-color="#a47f77"/><stop offset="0.5456" stop-color="#a57f77"/><stop offset="0.5622" stop-color="#a58079"/><stop offset="0.5887" stop-color="#a6827b"/><stop offset="0.6153" stop-color="#a7847d"/><stop offset="0.6418" stop-color="#ab8982"/><stop offset="0.6683" stop-color="#b1938c"/><stop offset="0.6949" stop-color="#b89c96"/><stop offset="0.7214" stop-color="#c0a7a2"/><stop offset="0.7479" stop-color="#c8b2ae"/><stop offset="0.7745" stop-color="#cebbb7"/><stop offset="0.8010" stop-color="#d2c1bd"/><stop offset="0.8275" stop-color="#d6c7c4"/><stop offset="0.8541" stop-color="#dbccca"/><stop offset="0.8806" stop-color="#ded1cf"/><stop offset="0.9071" stop-color="#e1d5d4"/><stop offset="0.9337" stop-color="#e4d9d8"/><stop offset="0.9602" stop-color="#e7dddd"/><stop offset="0.9867" stop-color="#eae2e1"/><stop offset="1.0000" stop-color="#ece4e3"/></linearGradient><linearGradient id="ga17"><stop offset="0.0000" stop-color="#e5e98c"/><stop offset="0.0249" stop-color="#ece289"/><stop offset="0.0498" stop-color="#dcca80"/><stop offset="0.0746" stop-color="#d0b977"/><stop offset="0.0995" stop-color="#cbb174"/><stop offset="0.1244" stop-color="#c5a871"/><stop offset="0.1493" stop-color="#c6a971"/><stop offset="0.1741" stop-color="#cab074"/><stop offset="0.1990" stop-color="#cdb677"/><stop offset="0.2239" stop-color="#d0bb79"/><stop offset="0.2488" stop-color="#cfba78"/><stop offset="0.2736" stop-color="#cdb677"/><stop offset="0.2985" stop-color="#c9af74"/><stop offset="0.3234" stop-color="#c6ac72"/><stop offset="0.3483" stop-color="#c3a770"/><stop offset="0.3731" stop-color="#bea06d"/><stop offset="0.3964" stop-color="#b8986a"/><stop offset="0.4046" stop-color="#b69669"/><stop offset="0.4129" stop-color="#af8d66"/><stop offset="0.4212" stop-color="#a98464"/><stop offset="0.4295" stop-color="#a27b61"/><stop offset="0.4378" stop-color="#9b725c"/><stop offset="0.4461" stop-color="#946756"/><stop offset="0.4544" stop-color="#906154"/><stop offset="0.4627" stop-color="#8f6156"/><stop offset="0.4710" stop-color="#94675d"/><stop offset="0.4793" stop-color="#986e65"/><stop offset="0.4876" stop-color="#9a7269"/><stop offset="0.4959" stop-color="#9d766e"/><stop offset="0.5041" stop-color="#9e7870"/><stop offset="0.5124" stop-color="#a07a72"/><stop offset="0.5207" stop-color="#a17c74"/><stop offset="0.5290" stop-color="#a37e76"/><stop offset="0.5373" stop-color="#a47f77"/><stop offset="0.5456" stop-color="#a47f78"/><stop offset="0.5622" stop-color="#a58179"/><stop offset="0.5887" stop-color="#a6827b"/><stop offset="0.6153" stop-color="#a7847d"/><stop offset="0.6418" stop-color="#aa8882"/><stop offset="0.6683" stop-color="#b1928c"/><stop offset="0.6949" stop-color="#b89d97"/><stop offset="0.7214" stop-color="#c0a8a3"/><stop offset="0.7479" stop-color="#c8b3ae"/><stop offset="0.7745" stop-color="#cebbb7"/><stop offset="0.8010" stop-color="#d2c1bd"/><stop offset="0.8275" stop-color="#d6c6c4"/><stop offset="0.8541" stop-color="#daccca"/><stop offset="0.8806" stop-color="#ded1cf"/><stop offset="0.9071" stop-color="#e1d5d3"/><stop offset="0.9337" stop-color="#e4d9d8"/><stop offset="0.9602" stop-color="#e7dddc"/><stop offset="0.9867" stop-color="#eae1e0"/><stop offset="1.0000" stop-color="#ebe3e2"/></linearGradient><linearGradient id="ga18"><stop offset="0.0000" stop-color="#e0ec8e"/><stop offset="0.0249" stop-color="#f2eb8c"/><stop offset="0.0498" stop-color="#dfcf82"/><stop offset="0.0746" stop-color="#d0b878"/><stop offset="0.0995" stop-color="#cbb174"/><stop offset="0.1244" stop-color="#c5a870"/><stop offset="0.1493" stop-color="#c5a870"/><stop offset="0.1741" stop-color="#c9af74"/><stop offset="0.1990" stop-color="#cdb577"/><stop offset="0.2239" stop-color="#cfba78"/><stop offset="0.2488" stop-color="#d0bb79"/><stop offset="0.2736" stop-color="#ceb878"/><stop offset="0.2985" stop-color="#cbb375"/><stop offset="0.3234" stop-color="#c8af73"/><stop offset="0.3483" stop-color="#c5ab71"/><stop offset="0.3731" stop-color="#bfa26d"/><stop offset="0.3964" stop-color="#b99a6a"/><stop offset="0.4046" stop-color="#b79769"/><stop offset="0.4129" stop-color="#b08e66"/><stop offset="0.4212" stop-color="#aa8664"/><stop offset="0.4295" stop-color="#a47d61"/><stop offset="0.4378" stop-color="#9d745e"/><stop offset="0.4461" stop-color="#966a58"/><stop offset="0.4544" stop-color="#916354"/><stop offset="0.4627" stop-color="#8e5f54"/><stop offset="0.4710" stop-color="#92665b"/><stop offset="0.4793" stop-color="#966c63"/><stop offset="0.4876" stop-color="#997169"/><stop offset="0.4959" stop-color="#9c776f"/><stop offset="0.5041" stop-color="#9e7870"/><stop offset="0.5124" stop-color="#9f7a72"/><stop offset="0.5207" stop-color="#a17c74"/><stop offset="0.5290" stop-color="#a27e76"/><stop offset="0.5373" stop-color="#a37f77"/><stop offset="0.5456" stop-color="#a48078"/><stop offset="0.5622" stop-color="#a58179"/><stop offset="0.5887" stop-color="#a6827b"/><stop offset="0.6153" stop-color="#a7847d"/><stop offset="0.6418" stop-color="#a98781"/><stop offset="0.6683" stop-color="#b1928c"/><stop offset="0.6949" stop-color="#b99d97"/><stop offset="0.7214" stop-color="#c1a8a3"/><stop offset="0.7479" stop-color="#c8b3ae"/><stop offset="0.7745" stop-color="#cebbb7"/><stop offset="0.8010" stop-color="#d2c0bd"/><stop offset="0.8275" stop-color="#d6c6c3"/><stop offset="0.8541" stop-color="#daccc9"/><stop offset="0.8806" stop-color="#ddd1cf"/><stop offset="0.9071" stop-color="#e0d5d3"/><stop offset="0.9337" stop-color="#e3d9d7"/><stop offset="0.9602" stop-color="#e6dddb"/><stop offset="0.9867" stop-color="#e9e1df"/><stop offset="1.0000" stop-color="#ebe3e1"/></linearGradient><linearGradient id="ga19"><stop offset="0.0000" stop-color="#dbef8f"/><stop offset="0.0249" stop-color="#f7f48f"/><stop offset="0.0498" stop-color="#e2d384"/><stop offset="0.0746" stop-color="#d0b878"/><stop offset="0.0995" stop-color="#cab074"/><stop offset="0.1244" stop-color="#c5a870"/><stop offset="0.1493" stop-color="#c4a770"/><stop offset="0.1741" stop-color="#c8ae73"/><stop offset="0.1990" stop-color="#ccb576"/><stop offset="0.2239" stop-color="#cfb978"/><stop offset="0.2488" stop-color="#d0bb79"/><stop offset="0.2736" stop-color="#d0bb79"/><stop offset="0.2985" stop-color="#cdb677"/><stop offset="0.3234" stop-color="#cab275"/><stop offset="0.3483" stop-color="#c7ae73"/><stop offset="0.3731" stop-color="#c0a46e"/><stop offset="0.3964" stop-color="#ba9b6a"/><stop offset="0.4046" stop-color="#b89868"/><stop offset="0.4129" stop-color="#b18f66"/><stop offset="0.4212" stop-color="#ab8764"/><stop offset="0.4295" stop-color="#a57f62"/><stop offset="0.4378" stop-color="#9f775f"/><stop offset="0.4461" stop-color="#986d5a"/><stop offset="0.4544" stop-color="#926455"/><stop offset="0.4627" stop-color="#8d5d51"/><stop offset="0.4710" stop-color="#916459"/><stop offset="0.4793" stop-color="#956b61"/><stop offset="0.4876" stop-color="#987168"/><stop offset="0.4959" stop-color="#9c7870"/><stop offset="0.5041" stop-color="#9e7971"/><stop offset="0.5124" stop-color="#9f7b73"/><stop offset="0.5207" stop-color="#a07c74"/><stop offset="0.5290" stop-color="#a27d75"/><stop offset="0.5373" stop-color="#a37f77"/><stop offset="0.5456" stop-color="#a48078"/><stop offset="0.5622" stop-color="#a58179"/><stop offset="0.5887" stop-color="#a6837b"/><stop offset="0.6153" stop-color="#a7847e"/><stop offset="0.6418" stop-color="#a88680"/><stop offset="0.6683" stop-color="#b0918b"/><stop offset="0.6949" stop-color="#b99e98"/><stop offset="0.7214" stop-color="#c1a9a3"/><stop offset="0.7479" stop-color="#c8b3ae"/><stop offset="0.7745" stop-color="#cebbb7"/><stop offset="0.8010" stop-color="#d2c0bd"/><stop offset="0.8275" stop-color="#d5c6c3"/><stop offset="0.8541" stop-color="#d9cbc9"/><stop offset="0.8806" stop-color="#ddd1cf"/><stop offset="0.9071" stop-color="#e0d4d3"/><stop offset="0.9337" stop-color="#e3d8d7"/><stop offset="0.9602" stop-color="#e6dcdb"/><stop offset="0.9867" stop-color="#e9e0de"/><stop offset="1.0000" stop-color="#eae2e0"/></linearGradient><linearGradient id="ga20"><stop offset="0.0000" stop-color="#d5f090"/><stop offset="0.0249" stop-color="#f6f790"/><stop offset="0.0498" stop-color="#e7db87"/><stop offset="0.0746" stop-color="#d4bd7a"/><stop offset="0.0995" stop-color="#ccb275"/><stop offset="0.1244" stop-color="#c6a971"/><stop offset="0.1493" stop-color="#c4a76f"/><stop offset="0.1741" stop-color="#c7ac72"/><stop offset="0.1990" stop-color="#cbb375"/><stop offset="0.2239" stop-color="#ceb777"/><stop offset="0.2488" stop-color="#d0bb79"/><stop offset="0.2736" stop-color="#d1bd7a"/><stop offset="0.2985" stop-color="#cfb978"/><stop offset="0.3234" stop-color="#ccb677"/><stop offset="0.3483" stop-color="#c9b275"/><stop offset="0.3731" stop-color="#c3a870"/><stop offset="0.3964" stop-color="#bc9e6b"/><stop offset="0.4046" stop-color="#ba9b69"/><stop offset="0.4129" stop-color="#b49367"/><stop offset="0.4212" stop-color="#af8c65"/><stop offset="0.4295" stop-color="#a88463"/><stop offset="0.4378" stop-color="#a27b61"/><stop offset="0.4461" stop-color="#9c725c"/><stop offset="0.4544" stop-color="#956857"/><stop offset="0.4627" stop-color="#8e5f51"/><stop offset="0.4710" stop-color="#906357"/><stop offset="0.4793" stop-color="#93685d"/><stop offset="0.4876" stop-color="#976f65"/><stop offset="0.4959" stop-color="#9b766d"/><stop offset="0.5041" stop-color="#9d7870"/><stop offset="0.5124" stop-color="#9e7971"/><stop offset="0.5207" stop-color="#a07b73"/><stop offset="0.5290" stop-color="#a17c74"/><stop offset="0.5373" stop-color="#a27e76"/><stop offset="0.5456" stop-color="#a47f77"/><stop offset="0.5622" stop-color="#a58179"/><stop offset="0.5887" stop-color="#a7847d"/><stop offset="0.6153" stop-color="#a98780"/><stop offset="0.6418" stop-color="#ab8a84"/><stop offset="0.6683" stop-color="#b39590"/><stop offset="0.6949" stop-color="#bca19c"/><stop offset="0.7214" stop-color="#c3aca7"/><stop offset="0.7479" stop-color="#cab5b1"/><stop offset="0.7745" stop-color="#cfbcb8"/><stop offset="0.8010" stop-color="#d2c1be"/><stop offset="0.8275" stop-color="#d5c6c4"/><stop offset="0.8541" stop-color="#d9ccc9"/><stop offset="0.8806" stop-color="#dcd0ce"/><stop offset="0.9071" stop-color="#dfd4d2"/><stop offset="0.9337" stop-color="#e2d8d6"/><stop offset="0.9602" stop-color="#e5dcda"/><stop offset="0.9867" stop-color="#e8e0de"/><stop offset="1.0000" stop-color="#eae2e0"/></linearGradient><linearGradient id="ga21"><stop offset="0.0000" stop-color="#d0f090"/><stop offset="0.0249" stop-color="#edf48f"/><stop offset="0.0498" stop-color="#eee68a"/><stop offset="0.0746" stop-color="#dcc87f"/><stop offset="0.0995" stop-color="#cfb677"/><stop offset="0.1244" stop-color="#c7ab72"/><stop offset="0.1493" stop-color="#c4a76f"/><stop offset="0.1741" stop-color="#c5a970"/><stop offset="0.1990" stop-color="#c9af73"/><stop offset="0.2239" stop-color="#ccb476"/><stop offset="0.2488" stop-color="#d0ba78"/><stop offset="0.2736" stop-color="#d2bd7a"/><stop offset="0.2985" stop-color="#d1bc79"/><stop offset="0.3234" stop-color="#cfb978"/><stop offset="0.3483" stop-color="#cdb677"/><stop offset="0.3731" stop-color="#c7ae73"/><stop offset="0.3964" stop-color="#c0a46e"/><stop offset="0.4046" stop-color="#bda06c"/><stop offset="0.4129" stop-color="#b89a6a"/><stop offset="0.4212" stop-color="#b49468"/><stop offset="0.4295" stop-color="#ad8b65"/><stop offset="0.4378" stop-color="#a78263"/><stop offset="0.4461" stop-color="#a0785f"/><stop offset="0.4544" stop-color="#996f5b"/><stop offset="0.4627" stop-color="#926454"/><stop offset="0.4710" stop-color="#906254"/><stop offset="0.4793" stop-color="#916358"/><stop offset="0.4876" stop-color="#956a60"/><stop offset="0.4959" stop-color="#997168"/><stop offset="0.5041" stop-color="#9c756d"/><stop offset="0.5124" stop-color="#9d766e"/><stop offset="0.5207" stop-color="#9f7870"/><stop offset="0.5290" stop-color="#a07a72"/><stop offset="0.5373" stop-color="#a17b73"/><stop offset="0.5456" stop-color="#a37d76"/><stop offset="0.5622" stop-color="#a58179"/><stop offset="0.5887" stop-color="#a8867f"/><stop offset="0.6153" stop-color="#ac8c86"/><stop offset="0.6418" stop-color="#b1928d"/><stop offset="0.6683" stop-color="#b99d98"/><stop offset="0.6949" stop-color="#c0a8a3"/><stop offset="0.7214" stop-color="#c8b2ae"/><stop offset="0.7479" stop-color="#cdbab5"/><stop offset="0.7745" stop-color="#d0bfbc"/><stop offset="0.8010" stop-color="#d3c3c0"/><stop offset="0.8275" stop-color="#d6c8c5"/><stop offset="0.8541" stop-color="#d9ccca"/><stop offset="0.8806" stop-color="#dbd0ce"/><stop offset="0.9071" stop-color="#ded4d2"/><stop offset="0.9337" stop-color="#e1d8d6"/><stop offset="0.9602" stop-color="#e4dbd9"/><stop offset="0.9867" stop-color="#e8dfdd"/><stop offset="1.0000" stop-color="#e9e1df"/></linearGradient><linearGradient id="ga22"><stop offset="0.0000" stop-color="#cbf090"/><stop offset="0.0249" stop-color="#e4f28e"/><stop offset="0.0498" stop-color="#f5f08e"/><stop offset="0.0746" stop-color="#e4d484"/><stop offset="0.0995" stop-color="#d1ba79"/><stop offset="0.1244" stop-color="#c8ad72"/><stop offset="0.1493" stop-color="#c3a76f"/><stop offset="0.1741" stop-color="#c3a66e"/><stop offset="0.1990" stop-color="#c7ac72"/><stop offset="0.2239" stop-color="#cbb275"/><stop offset="0.2488" stop-color="#cfb878"/><stop offset="0.2736" stop-color="#d2be7b"/><stop offset="0.2985" stop-color="#d3be7b"/><stop offset="0.3234" stop-color="#d1bc7a"/><stop offset="0.3483" stop-color="#d0ba79"/><stop offset="0.3731" stop-color="#ccb476"/><stop offset="0.3964" stop-color="#c3a971"/><stop offset="0.4046" stop-color="#c0a56f"/><stop offset="0.4129" stop-color="#bda06d"/><stop offset="0.4212" stop-color="#b99c6b"/><stop offset="0.4295" stop-color="#b29268"/><stop offset="0.4378" stop-color="#ab8865"/><stop offset="0.4461" stop-color="#a57f61"/><stop offset="0.4544" stop-color="#9e755e"/><stop offset="0.4627" stop-color="#966957"/><stop offset="0.4710" stop-color="#916152"/><stop offset="0.4793" stop-color="#8f5f52"/><stop offset="0.4876" stop-color="#93665a"/><stop offset="0.4959" stop-color="#976c63"/><stop offset="0.5041" stop-color="#9b726a"/><stop offset="0.5124" stop-color="#9c746c"/><stop offset="0.5207" stop-color="#9e756d"/><stop offset="0.5290" stop-color="#9f776f"/><stop offset="0.5373" stop-color="#a07971"/><stop offset="0.5456" stop-color="#a27c74"/><stop offset="0.5622" stop-color="#a58179"/><stop offset="0.5887" stop-color="#aa8882"/><stop offset="0.6153" stop-color="#b0918c"/><stop offset="0.6418" stop-color="#b79b96"/><stop offset="0.6683" stop-color="#bea6a1"/><stop offset="0.6949" stop-color="#c5afab"/><stop offset="0.7214" stop-color="#ccb8b4"/><stop offset="0.7479" stop-color="#d0beba"/><stop offset="0.7745" stop-color="#d2c2bf"/><stop offset="0.8010" stop-color="#d4c6c3"/><stop offset="0.8275" stop-color="#d6c9c7"/><stop offset="0.8541" stop-color="#d9cdcb"/><stop offset="0.8806" stop-color="#dbd0ce"/><stop offset="0.9071" stop-color="#ded4d2"/><stop offset="0.9337" stop-color="#e1d8d6"/><stop offset="0.9602" stop-color="#e4dbd9"/><stop offset="0.9867" stop-color="#e7dfdd"/><stop offset="1.0000" stop-color="#e8e0de"/></linearGradient><linearGradient id="ga23"><stop offset="0.0000" stop-color="#c7f090"/><stop offset="0.0249" stop-color="#ddf08e"/><stop offset="0.0498" stop-color="#f6f690"/><stop offset="0.0746" stop-color="#ebdd88"/><stop offset="0.0995" stop-color="#d5bf7b"/><stop offset="0.1244" stop-color="#cab074"/><stop offset="0.1493" stop-color="#c4a76f"/><stop offset="0.1741" stop-color="#c2a46d"/><stop offset="0.1990" stop-color="#c5a970"/><stop offset="0.2239" stop-color="#c9af73"/><stop offset="0.2488" stop-color="#ceb677"/><stop offset="0.2736" stop-color="#d2bd7a"/><stop offset="0.2985" stop-color="#d3bf7b"/><stop offset="0.3234" stop-color="#d3be7b"/><stop offset="0.3483" stop-color="#d2bd7a"/><stop offset="0.3731" stop-color="#cfb878"/><stop offset="0.3964" stop-color="#c6ad72"/><stop offset="0.4046" stop-color="#c3a870"/><stop offset="0.4129" stop-color="#bfa46e"/><stop offset="0.4212" stop-color="#bca06c"/><stop offset="0.4295" stop-color="#b59669"/><stop offset="0.4378" stop-color="#ae8c66"/><stop offset="0.4461" stop-color="#a78363"/><stop offset="0.4544" stop-color="#a17960"/><stop offset="0.4627" stop-color="#996e59"/><stop offset="0.4710" stop-color="#926352"/><stop offset="0.4793" stop-color="#8f5e50"/><stop offset="0.4876" stop-color="#926356"/><stop offset="0.4959" stop-color="#94675c"/><stop offset="0.5041" stop-color="#996e65"/><stop offset="0.5124" stop-color="#9b7168"/><stop offset="0.5207" stop-color="#9d736b"/><stop offset="0.5290" stop-color="#9f766e"/><stop offset="0.5373" stop-color="#a17971"/><stop offset="0.5456" stop-color="#a37d75"/><stop offset="0.5622" stop-color="#a7847d"/><stop offset="0.5887" stop-color="#ae8e88"/><stop offset="0.6153" stop-color="#b59993"/><stop offset="0.6418" stop-color="#bda49f"/><stop offset="0.6683" stop-color="#c4ada9"/><stop offset="0.6949" stop-color="#c9b5b1"/><stop offset="0.7214" stop-color="#cfbcb8"/><stop offset="0.7479" stop-color="#d1c1bd"/><stop offset="0.7745" stop-color="#d3c4c0"/><stop offset="0.8010" stop-color="#d5c7c3"/><stop offset="0.8275" stop-color="#d7cac7"/><stop offset="0.8541" stop-color="#d9cdca"/><stop offset="0.8806" stop-color="#dbd0ce"/><stop offset="0.9071" stop-color="#ddd4d2"/><stop offset="0.9337" stop-color="#e0d7d5"/><stop offset="0.9602" stop-color="#e3dbd8"/><stop offset="0.9867" stop-color="#e6dedc"/><stop offset="1.0000" stop-color="#e8e0de"/></linearGradient><linearGradient id="ga24"><stop offset="0.0000" stop-color="#c4ef8f"/><stop offset="0.0249" stop-color="#d7f08f"/><stop offset="0.0498" stop-color="#eff490"/><stop offset="0.0746" stop-color="#efe58a"/><stop offset="0.0995" stop-color="#dac77e"/><stop offset="0.1244" stop-color="#cdb476"/><stop offset="0.1493" stop-color="#c5a870"/><stop offset="0.1741" stop-color="#c2a46d"/><stop offset="0.1990" stop-color="#c2a56e"/><stop offset="0.2239" stop-color="#c7ab71"/><stop offset="0.2488" stop-color="#ccb275"/><stop offset="0.2736" stop-color="#d0b979"/><stop offset="0.2985" stop-color="#d2bd7b"/><stop offset="0.3234" stop-color="#d3bf7b"/><stop offset="0.3483" stop-color="#d2bd7a"/><stop offset="0.3731" stop-color="#cfb978"/><stop offset="0.3964" stop-color="#c8af73"/><stop offset="0.4046" stop-color="#c4aa71"/><stop offset="0.4129" stop-color="#c0a46e"/><stop offset="0.4212" stop-color="#bb9e6b"/><stop offset="0.4295" stop-color="#b59668"/><stop offset="0.4378" stop-color="#af8d65"/><stop offset="0.4461" stop-color="#a88462"/><stop offset="0.4544" stop-color="#a27b5f"/><stop offset="0.4627" stop-color="#9b725a"/><stop offset="0.4710" stop-color="#946854"/><stop offset="0.4793" stop-color="#916251"/><stop offset="0.4876" stop-color="#916253"/><stop offset="0.4959" stop-color="#916154"/><stop offset="0.5041" stop-color="#96685e"/><stop offset="0.5124" stop-color="#996d63"/><stop offset="0.5207" stop-color="#9c7269"/><stop offset="0.5290" stop-color="#9f776f"/><stop offset="0.5373" stop-color="#a27c74"/><stop offset="0.5456" stop-color="#a58179"/><stop offset="0.5622" stop-color="#ac8b84"/><stop offset="0.5887" stop-color="#b49993"/><stop offset="0.6153" stop-color="#bca39d"/><stop offset="0.6418" stop-color="#c4ada8"/><stop offset="0.6683" stop-color="#c8b3af"/><stop offset="0.6949" stop-color="#ccb9b5"/><stop offset="0.7214" stop-color="#d0beba"/><stop offset="0.7479" stop-color="#d2c1bd"/><stop offset="0.7745" stop-color="#d3c3c0"/><stop offset="0.8010" stop-color="#d5c6c2"/><stop offset="0.8275" stop-color="#d7c9c6"/><stop offset="0.8541" stop-color="#d9ccca"/><stop offset="0.8806" stop-color="#dbd0cd"/><stop offset="0.9071" stop-color="#ded3d1"/><stop offset="0.9337" stop-color="#e0d7d4"/><stop offset="0.9602" stop-color="#e3dad8"/><stop offset="0.9867" stop-color="#e6dddb"/><stop offset="1.0000" stop-color="#e7dfdd"/></linearGradient><linearGradient id="ga25"><stop offset="0.0000" stop-color="#c2ee8e"/><stop offset="0.0249" stop-color="#d2f08f"/><stop offset="0.0498" stop-color="#e8f390"/><stop offset="0.0746" stop-color="#f3ed8d"/><stop offset="0.0995" stop-color="#e0ce81"/><stop offset="0.1244" stop-color="#d0b877"/><stop offset="0.1493" stop-color="#c6a970"/><stop offset="0.1741" stop-color="#c2a46d"/><stop offset="0.1990" stop-color="#c0a16c"/><stop offset="0.2239" stop-color="#c5a86f"/><stop offset="0.2488" stop-color="#caaf73"/><stop offset="0.2736" stop-color="#ceb677"/><stop offset="0.2985" stop-color="#d2bc7a"/><stop offset="0.3234" stop-color="#d3bf7b"/><stop offset="0.3483" stop-color="#d2bd7a"/><stop offset="0.3731" stop-color="#d0ba79"/><stop offset="0.3964" stop-color="#cab174"/><stop offset="0.4046" stop-color="#c5ab71"/><stop offset="0.4129" stop-color="#c0a46e"/><stop offset="0.4212" stop-color="#bb9d6b"/><stop offset="0.4295" stop-color="#b59568"/><stop offset="0.4378" stop-color="#b08e64"/><stop offset="0.4461" stop-color="#a98661"/><stop offset="0.4544" stop-color="#a37e5e"/><stop offset="0.4627" stop-color="#9d755a"/><stop offset="0.4710" stop-color="#976d57"/><stop offset="0.4793" stop-color="#936652"/><stop offset="0.4876" stop-color="#90614f"/><stop offset="0.4959" stop-color="#8e5b4d"/><stop offset="0.5041" stop-color="#936356"/><stop offset="0.5124" stop-color="#976a5f"/><stop offset="0.5207" stop-color="#9b7167"/><stop offset="0.5290" stop-color="#a07870"/><stop offset="0.5373" stop-color="#a47e76"/><stop offset="0.5456" stop-color="#a8857d"/><stop offset="0.5622" stop-color="#b0928c"/><stop offset="0.5887" stop-color="#bba39d"/><stop offset="0.6153" stop-color="#c2aca7"/><stop offset="0.6418" stop-color="#cab6b1"/><stop offset="0.6683" stop-color="#cdb9b5"/><stop offset="0.6949" stop-color="#cfbcb8"/><stop offset="0.7214" stop-color="#d1bfbb"/><stop offset="0.7479" stop-color="#d2c1bd"/><stop offset="0.7745" stop-color="#d3c3bf"/><stop offset="0.8010" stop-color="#d5c5c1"/><stop offset="0.8275" stop-color="#d7c9c5"/><stop offset="0.8541" stop-color="#d9ccc9"/><stop offset="0.8806" stop-color="#dbcfcc"/><stop offset="0.9071" stop-color="#ded3d0"/><stop offset="0.9337" stop-color="#e0d6d3"/><stop offset="0.9602" stop-color="#e3d9d7"/><stop offset="0.9867" stop-color="#e5dddb"/><stop offset="1.0000" stop-color="#e6dedc"/></linearGradient><linearGradient id="ga26"><stop offset="0.0000" stop-color="#bfee8e"/><stop offset="0.0249" stop-color="#ceef8f"/><stop offset="0.0498" stop-color="#e2f290"/><stop offset="0.0746" stop-color="#f4f28e"/><stop offset="0.0995" stop-color="#e5d584"/><stop offset="0.1244" stop-color="#d4be7a"/><stop offset="0.1493" stop-color="#c8ac72"/><stop offset="0.1741" stop-color="#c3a56e"/><stop offset="0.1990" stop-color="#bf9f6b"/><stop offset="0.2239" stop-color="#c3a56e"/><stop offset="0.2488" stop-color="#c8ac72"/><stop offset="0.2736" stop-color="#ccb376"/><stop offset="0.2985" stop-color="#d1bb79"/><stop offset="0.3234" stop-color="#d3bf7b"/><stop offset="0.3483" stop-color="#d2bd7a"/><stop offset="0.3731" stop-color="#d1bb79"/><stop offset="0.3964" stop-color="#cbb375"/><stop offset="0.4046" stop-color="#c6ac72"/><stop offset="0.4129" stop-color="#c1a56e"/><stop offset="0.4212" stop-color="#bc9e6b"/><stop offset="0.4295" stop-color="#b79768"/><stop offset="0.4378" stop-color="#b18f65"/><stop offset="0.4461" stop-color="#ab8862"/><stop offset="0.4544" stop-color="#a5805f"/><stop offset="0.4627" stop-color="#9f795b"/><stop offset="0.4710" stop-color="#997158"/><stop offset="0.4793" stop-color="#956953"/><stop offset="0.4876" stop-color="#91614e"/><stop offset="0.4959" stop-color="#8d5949"/><stop offset="0.5041" stop-color="#916052"/><stop offset="0.5124" stop-color="#95675b"/><stop offset="0.5207" stop-color="#9a6e64"/><stop offset="0.5290" stop-color="#9e756d"/><stop offset="0.5373" stop-color="#a37d75"/><stop offset="0.5456" stop-color="#a8857e"/><stop offset="0.5622" stop-color="#b2958e"/><stop offset="0.5887" stop-color="#bea8a2"/><stop offset="0.6153" stop-color="#c6b1ac"/><stop offset="0.6418" stop-color="#cdbab6"/><stop offset="0.6683" stop-color="#d0bdb9"/><stop offset="0.6949" stop-color="#d1beba"/><stop offset="0.7214" stop-color="#d1c0bc"/><stop offset="0.7479" stop-color="#d2c1bd"/><stop offset="0.7745" stop-color="#d3c3bf"/><stop offset="0.8010" stop-color="#d5c5c1"/><stop offset="0.8275" stop-color="#d7c8c4"/><stop offset="0.8541" stop-color="#d9cbc8"/><stop offset="0.8806" stop-color="#dbcfcc"/><stop offset="0.9071" stop-color="#ddd2cf"/><stop offset="0.9337" stop-color="#e0d5d3"/><stop offset="0.9602" stop-color="#e2d9d6"/><stop offset="0.9867" stop-color="#e5dcda"/><stop offset="1.0000" stop-color="#e6dedc"/></linearGradient><linearGradient id="ga27"><stop offset="0.0000" stop-color="#beed8c"/><stop offset="0.0249" stop-color="#ccef8e"/><stop offset="0.0498" stop-color="#ddf28f"/><stop offset="0.0746" stop-color="#f0f28e"/><stop offset="0.0995" stop-color="#e9dc87"/><stop offset="0.1244" stop-color="#d9c57d"/><stop offset="0.1493" stop-color="#ccb275"/><stop offset="0.1741" stop-color="#c5a76f"/><stop offset="0.1990" stop-color="#c0a16c"/><stop offset="0.2239" stop-color="#c2a36d"/><stop offset="0.2488" stop-color="#c7aa71"/><stop offset="0.2736" stop-color="#cbb175"/><stop offset="0.2985" stop-color="#d0b978"/><stop offset="0.3234" stop-color="#d2bd7b"/><stop offset="0.3483" stop-color="#d3be7b"/><stop offset="0.3731" stop-color="#d1bb79"/><stop offset="0.3964" stop-color="#cbb375"/><stop offset="0.4046" stop-color="#c7ad72"/><stop offset="0.4129" stop-color="#c3a770"/><stop offset="0.4212" stop-color="#bfa16d"/><stop offset="0.4295" stop-color="#bb9b6a"/><stop offset="0.4378" stop-color="#b59367"/><stop offset="0.4461" stop-color="#ae8b63"/><stop offset="0.4544" stop-color="#a88360"/><stop offset="0.4627" stop-color="#a27b5c"/><stop offset="0.4710" stop-color="#9b7359"/><stop offset="0.4793" stop-color="#976b54"/><stop offset="0.4876" stop-color="#92634f"/><stop offset="0.4959" stop-color="#8e5b4a"/><stop offset="0.5041" stop-color="#905e50"/><stop offset="0.5124" stop-color="#946457"/><stop offset="0.5207" stop-color="#976a5e"/><stop offset="0.5290" stop-color="#9a6f65"/><stop offset="0.5373" stop-color="#a0786e"/><stop offset="0.5456" stop-color="#a58078"/><stop offset="0.5622" stop-color="#af9089"/><stop offset="0.5887" stop-color="#bca59f"/><stop offset="0.6153" stop-color="#c4afaa"/><stop offset="0.6418" stop-color="#ccb8b4"/><stop offset="0.6683" stop-color="#cfbcb8"/><stop offset="0.6949" stop-color="#d0beba"/><stop offset="0.7214" stop-color="#d1bfbb"/><stop offset="0.7479" stop-color="#d2c1bd"/><stop offset="0.7745" stop-color="#d3c3bf"/><stop offset="0.8010" stop-color="#d5c5c1"/><stop offset="0.8275" stop-color="#d7c8c4"/><stop offset="0.8541" stop-color="#d9cbc8"/><stop offset="0.8806" stop-color="#dbcecb"/><stop offset="0.9071" stop-color="#ddd1ce"/><stop offset="0.9337" stop-color="#dfd4d2"/><stop offset="0.9602" stop-color="#e2d8d6"/><stop offset="0.9867" stop-color="#e5dcda"/><stop offset="1.0000" stop-color="#e6dedc"/></linearGradient><linearGradient id="ga28"><stop offset="0.0000" stop-color="#bced8b"/><stop offset="0.0249" stop-color="#c9ee8d"/><stop offset="0.0498" stop-color="#d9f18f"/><stop offset="0.0746" stop-color="#ebf28f"/><stop offset="0.0995" stop-color="#ede489"/><stop offset="0.1244" stop-color="#decd81"/><stop offset="0.1493" stop-color="#d0b978"/><stop offset="0.1741" stop-color="#c7aa70"/><stop offset="0.1990" stop-color="#c1a36c"/><stop offset="0.2239" stop-color="#c1a26c"/><stop offset="0.2488" stop-color="#c6a970"/><stop offset="0.2736" stop-color="#caaf74"/><stop offset="0.2985" stop-color="#ceb777"/><stop offset="0.3234" stop-color="#d2bc7a"/><stop offset="0.3483" stop-color="#d3be7b"/><stop offset="0.3731" stop-color="#d0ba79"/><stop offset="0.3964" stop-color="#ccb375"/><stop offset="0.4046" stop-color="#c8ae73"/><stop offset="0.4129" stop-color="#c5a971"/><stop offset="0.4212" stop-color="#c2a46f"/><stop offset="0.4295" stop-color="#be9f6c"/><stop offset="0.4378" stop-color="#b89769"/><stop offset="0.4461" stop-color="#b18f65"/><stop offset="0.4544" stop-color="#ab8661"/><stop offset="0.4627" stop-color="#a47e5e"/><stop offset="0.4710" stop-color="#9e765a"/><stop offset="0.4793" stop-color="#996d55"/><stop offset="0.4876" stop-color="#946551"/><stop offset="0.4959" stop-color="#905d4c"/><stop offset="0.5041" stop-color="#905d4f"/><stop offset="0.5124" stop-color="#926154"/><stop offset="0.5207" stop-color="#946558"/><stop offset="0.5290" stop-color="#96695d"/><stop offset="0.5373" stop-color="#9c7268"/><stop offset="0.5456" stop-color="#a27b72"/><stop offset="0.5622" stop-color="#ac8c85"/><stop offset="0.5887" stop-color="#baa29c"/><stop offset="0.6153" stop-color="#c3ada8"/><stop offset="0.6418" stop-color="#cbb6b2"/><stop offset="0.6683" stop-color="#cfbbb7"/><stop offset="0.6949" stop-color="#d0bdb9"/><stop offset="0.7214" stop-color="#d1bfbb"/><stop offset="0.7479" stop-color="#d2c1bd"/><stop offset="0.7745" stop-color="#d3c3bf"/><stop offset="0.8010" stop-color="#d4c5c1"/><stop offset="0.8275" stop-color="#d6c8c4"/><stop offset="0.8541" stop-color="#d8cbc7"/><stop offset="0.8806" stop-color="#dacdca"/><stop offset="0.9071" stop-color="#dcd0ce"/><stop offset="0.9337" stop-color="#ded4d1"/><stop offset="0.9602" stop-color="#e1d8d6"/><stop offset="0.9867" stop-color="#e4dcda"/><stop offset="1.0000" stop-color="#e6dedc"/></linearGradient><linearGradient id="ga29"><stop offset="0.0000" stop-color="#bbed8a"/><stop offset="0.0249" stop-color="#c7ee8c"/><stop offset="0.0498" stop-color="#d5f08f"/><stop offset="0.0746" stop-color="#e7f28f"/><stop offset="0.0995" stop-color="#f2eb8c"/><stop offset="0.1244" stop-color="#e3d584"/><stop offset="0.1493" stop-color="#d5bf7a"/><stop offset="0.1741" stop-color="#c8ad72"/><stop offset="0.1990" stop-color="#c3a56d"/><stop offset="0.2239" stop-color="#c0a06b"/><stop offset="0.2488" stop-color="#c4a76f"/><stop offset="0.2736" stop-color="#c9ae73"/><stop offset="0.2985" stop-color="#cdb576"/><stop offset="0.3234" stop-color="#d1bb79"/><stop offset="0.3483" stop-color="#d3bf7b"/><stop offset="0.3731" stop-color="#d0ba79"/><stop offset="0.3964" stop-color="#ccb376"/><stop offset="0.4046" stop-color="#caaf74"/><stop offset="0.4129" stop-color="#c7ab72"/><stop offset="0.4212" stop-color="#c4a770"/><stop offset="0.4295" stop-color="#c2a36f"/><stop offset="0.4378" stop-color="#bb9b6a"/><stop offset="0.4461" stop-color="#b59267"/><stop offset="0.4544" stop-color="#ae8963"/><stop offset="0.4627" stop-color="#a7815f"/><stop offset="0.4710" stop-color="#a0785b"/><stop offset="0.4793" stop-color="#9b7056"/><stop offset="0.4876" stop-color="#966752"/><stop offset="0.4959" stop-color="#915f4d"/><stop offset="0.5041" stop-color="#8f5c4e"/><stop offset="0.5124" stop-color="#905e50"/><stop offset="0.5207" stop-color="#916053"/><stop offset="0.5290" stop-color="#936255"/><stop offset="0.5373" stop-color="#996c61"/><stop offset="0.5456" stop-color="#9f766c"/><stop offset="0.5622" stop-color="#a98780"/><stop offset="0.5887" stop-color="#b89f99"/><stop offset="0.6153" stop-color="#c1aba6"/><stop offset="0.6418" stop-color="#c9b4b0"/><stop offset="0.6683" stop-color="#cebab6"/><stop offset="0.6949" stop-color="#cfbcb8"/><stop offset="0.7214" stop-color="#d1beba"/><stop offset="0.7479" stop-color="#d2c0bc"/><stop offset="0.7745" stop-color="#d3c2be"/><stop offset="0.8010" stop-color="#d4c5c1"/><stop offset="0.8275" stop-color="#d6c7c4"/><stop offset="0.8541" stop-color="#d8cac7"/><stop offset="0.8806" stop-color="#d9cdca"/><stop offset="0.9071" stop-color="#dbd0cd"/><stop offset="0.9337" stop-color="#ddd3d0"/><stop offset="0.9602" stop-color="#e0d7d5"/><stop offset="0.9867" stop-color="#e4dcda"/><stop offset="1.0000" stop-color="#e6dedc"/></linearGradient><linearGradient id="ga30"><stop offset="0.0000" stop-color="#b9ec89"/><stop offset="0.0249" stop-color="#c4ee8c"/><stop offset="0.0498" stop-color="#d0f08e"/><stop offset="0.0746" stop-color="#e2f290"/><stop offset="0.0995" stop-color="#f6f28e"/><stop offset="0.1244" stop-color="#e8dd87"/><stop offset="0.1493" stop-color="#d9c57d"/><stop offset="0.1741" stop-color="#cab073"/><stop offset="0.1990" stop-color="#c4a66e"/><stop offset="0.2239" stop-color="#bf9f6b"/><stop offset="0.2488" stop-color="#c3a56e"/><stop offset="0.2736" stop-color="#c8ac72"/><stop offset="0.2985" stop-color="#ccb375"/><stop offset="0.3234" stop-color="#d0ba79"/><stop offset="0.3483" stop-color="#d4bf7c"/><stop offset="0.3731" stop-color="#d0b979"/><stop offset="0.3964" stop-color="#cdb376"/><stop offset="0.4046" stop-color="#cbb075"/><stop offset="0.4129" stop-color="#c9ad73"/><stop offset="0.4212" stop-color="#c7aa72"/><stop offset="0.4295" stop-color="#c6a771"/><stop offset="0.4378" stop-color="#bf9e6c"/><stop offset="0.4461" stop-color="#b89568"/><stop offset="0.4544" stop-color="#b18c64"/><stop offset="0.4627" stop-color="#aa8360"/><stop offset="0.4710" stop-color="#a27a5b"/><stop offset="0.4793" stop-color="#9d7257"/><stop offset="0.4876" stop-color="#986a53"/><stop offset="0.4959" stop-color="#93614f"/><stop offset="0.5041" stop-color="#8e5b4d"/><stop offset="0.5124" stop-color="#8e5b4d"/><stop offset="0.5207" stop-color="#8f5c4d"/><stop offset="0.5290" stop-color="#8f5c4d"/><stop offset="0.5373" stop-color="#95665a"/><stop offset="0.5456" stop-color="#9b7166"/><stop offset="0.5622" stop-color="#a7837b"/><stop offset="0.5887" stop-color="#b69c95"/><stop offset="0.6153" stop-color="#bfa9a3"/><stop offset="0.6418" stop-color="#c8b2ae"/><stop offset="0.6683" stop-color="#ceb9b5"/><stop offset="0.6949" stop-color="#cfbbb7"/><stop offset="0.7214" stop-color="#d0beba"/><stop offset="0.7479" stop-color="#d2c0bc"/><stop offset="0.7745" stop-color="#d3c2be"/><stop offset="0.8010" stop-color="#d4c5c1"/><stop offset="0.8275" stop-color="#d6c7c4"/><stop offset="0.8541" stop-color="#d7cac7"/><stop offset="0.8806" stop-color="#d8ccc9"/><stop offset="0.9071" stop-color="#dacfcc"/><stop offset="0.9337" stop-color="#dcd2d0"/><stop offset="0.9602" stop-color="#e0d7d5"/><stop offset="0.9867" stop-color="#e4dcda"/><stop offset="1.0000" stop-color="#e6dedc"/></linearGradient><linearGradient id="ga31"><stop offset="0.0000" stop-color="#b8ec88"/><stop offset="0.0249" stop-color="#c3ee8b"/><stop offset="0.0498" stop-color="#ceef8e"/><stop offset="0.0746" stop-color="#dff290"/><stop offset="0.0995" stop-color="#f9f790"/><stop offset="0.1244" stop-color="#ece28a"/><stop offset="0.1493" stop-color="#dcca7f"/><stop offset="0.1741" stop-color="#ccb174"/><stop offset="0.1990" stop-color="#c5a86f"/><stop offset="0.2239" stop-color="#be9e6a"/><stop offset="0.2488" stop-color="#c2a46e"/><stop offset="0.2736" stop-color="#c7aa71"/><stop offset="0.2985" stop-color="#cbb275"/><stop offset="0.3234" stop-color="#d0b978"/><stop offset="0.3483" stop-color="#d4c07c"/><stop offset="0.3731" stop-color="#d0b979"/><stop offset="0.3964" stop-color="#cdb376"/><stop offset="0.4046" stop-color="#ccb175"/><stop offset="0.4129" stop-color="#caae74"/><stop offset="0.4212" stop-color="#c9ac73"/><stop offset="0.4295" stop-color="#c8aa72"/><stop offset="0.4378" stop-color="#c1a16e"/><stop offset="0.4461" stop-color="#ba9869"/><stop offset="0.4544" stop-color="#b28e65"/><stop offset="0.4627" stop-color="#ab8560"/><stop offset="0.4710" stop-color="#a47c5c"/><stop offset="0.4793" stop-color="#9e7458"/><stop offset="0.4876" stop-color="#996b54"/><stop offset="0.4959" stop-color="#946250"/><stop offset="0.5041" stop-color="#8e5a4c"/><stop offset="0.5124" stop-color="#8d594b"/><stop offset="0.5207" stop-color="#8d5949"/><stop offset="0.5290" stop-color="#8c5848"/><stop offset="0.5373" stop-color="#936355"/><stop offset="0.5456" stop-color="#996d63"/><stop offset="0.5622" stop-color="#a58078"/><stop offset="0.5887" stop-color="#b49a93"/><stop offset="0.6153" stop-color="#bea7a2"/><stop offset="0.6418" stop-color="#c7b1ac"/><stop offset="0.6683" stop-color="#cdb9b5"/><stop offset="0.6949" stop-color="#cfbbb7"/><stop offset="0.7214" stop-color="#d0bdb9"/><stop offset="0.7479" stop-color="#d2c0bc"/><stop offset="0.7745" stop-color="#d3c2be"/><stop offset="0.8010" stop-color="#d4c5c1"/><stop offset="0.8275" stop-color="#d6c7c4"/><stop offset="0.8541" stop-color="#d7c9c6"/><stop offset="0.8806" stop-color="#d8ccc9"/><stop offset="0.9071" stop-color="#d9cecc"/><stop offset="0.9337" stop-color="#dbd1cf"/><stop offset="0.9602" stop-color="#dfd6d4"/><stop offset="0.9867" stop-color="#e4dbd9"/><stop offset="1.0000" stop-color="#e6dedc"/></linearGradient><linearGradient id="ga32"><stop offset="0.0000" stop-color="#b8ec88"/><stop offset="0.0249" stop-color="#c3ee8b"/><stop offset="0.0498" stop-color="#ceef8e"/><stop offset="0.0746" stop-color="#dff290"/><stop offset="0.0995" stop-color="#f9f790"/><stop offset="0.1244" stop-color="#ece28a"/><stop offset="0.1493" stop-color="#dcca7f"/><stop offset="0.1741" stop-color="#ccb174"/><stop offset="0.1990" stop-color="#c5a86f"/><stop offset="0.2239" stop-color="#be9e6a"/><stop offset="0.2488" stop-color="#c2a46e"/><stop offset="0.2736" stop-color="#c7aa71"/><stop offset="0.2985" stop-color="#cbb275"/><stop offset="0.3234" stop-color="#d0b978"/><stop offset="0.3483" stop-color="#d4c07c"/><stop offset="0.3731" stop-color="#d0b979"/><stop offset="0.3964" stop-color="#cdb376"/><stop offset="0.4046" stop-color="#ccb175"/><stop offset="0.4129" stop-color="#caae74"/><stop offset="0.4212" stop-color="#c9ac73"/><stop offset="0.4295" stop-color="#c8aa72"/><stop offset="0.4378" stop-color="#c1a16e"/><stop offset="0.4461" stop-color="#ba9869"/><stop offset="0.4544" stop-color="#b28e65"/><stop offset="0.4627" stop-color="#ab8560"/><stop offset="0.4710" stop-color="#a47c5c"/><stop offset="0.4793" stop-color="#9e7458"/><stop offset="0.4876" stop-color="#996b54"/><stop offset="0.4959" stop-color="#946250"/><stop offset="0.5041" stop-color="#8e5a4c"/><stop offset="0.5124" stop-color="#8d594b"/><stop offset="0.5207" stop-color="#8d5949"/><stop offset="0.5290" stop-color="#8c5848"/><stop offset="0.5373" stop-color="#936355"/><stop offset="0.5456" stop-color="#996d63"/><stop offset="0.5622" stop-color="#a58078"/><stop offset="0.5887" stop-color="#b49a93"/><stop offset="0.6153" stop-color="#bea7a2"/><stop offset="0.6418" stop-color="#c7b1ac"/><stop offset="0.6683" stop-color="#cdb9b5"/><stop offset="0.6949" stop-color="#cfbbb7"/><stop offset="0.7214" stop-color="#d0bdb9"/><stop offset="0.7479" stop-color="#d2c0bc"/><stop offset="0.7745" stop-color="#d3c2be"/><stop offset="0.8010" stop-color="#d4c5c1"/><stop offset="0.8275" stop-color="#d6c7c4"/><stop offset="0.8541" stop-color="#d7c9c6"/><stop offset="0.8806" stop-color="#d8ccc9"/><stop offset="0.9071" stop-color="#d9cecc"/><stop offset="0.9337" stop-color="#dbd1cf"/><stop offset="0.9602" stop-color="#dfd6d4"/><stop offset="0.9867" stop-color="#e4dbd9"/><stop offset="1.0000" stop-color="#e6dedc"/></linearGradient><filter id="fa" x="-5%" y="-5%" width="110%" height="110%"><feGaussianBlur stdDeviation="0 7"/></filter><clipPath id="ca"><rect x="121" y="3" width="603" height="603"/></clipPath></defs><g clip-path="url(#ca)"><g filter="url(#fa)"><rect x="121" y="-17" width="603" height="21" fill="url(#ga0)"/><rect x="121" y="3" width="603" height="21" fill="url(#ga1)"/><rect x="121" y="23" width="603" height="21" fill="url(#ga2)"/><rect x="121" y="43" width="603" height="21" fill="url(#ga3)"/><rect x="121" y="63" width="603" height="21" fill="url(#ga4)"/><rect x="121" y="83" width="603" height="21" fill="url(#ga5)"/><rect x="121" y="103" width="603" height="21" fill="url(#ga6)"/><rect x="121" y="123" width="603" height="21" fill="url(#ga7)"/><rect x="121" y="143" width="603" height="21" fill="url(#ga8)"/><rect x="121" y="163" width="603" height="21" fill="url(#ga9)"/><rect x="121" y="183" width="603" height="21" fill="url(#ga10)"/><rect x="121" y="203" width="603" height="21" fill="url(#ga11)"/><rect x="121" y="223" width="603" height="21" fill="url(#ga12)"/><rect x="121" y="243" width="603" height="21" fill="url(#ga13)"/><rect x="121" y="263" width="603" height="21" fill="url(#ga14)"/><rect x="121" y="283" width="603" height="21" fill="url(#ga15)"/><rect x="121" y="303" width="603" height="21" fill="url(#ga16)"/><rect x="121" y="323" width="603" height="21" fill="url(#ga17)"/><rect x="121" y="343" width="603" height="21" fill="url(#ga18)"/><rect x="121" y="363" width="603" height="21" fill="url(#ga19)"/><rect x="121" y="383" width="603" height="21" fill="url(#ga20)"/><rect x="121" y="403" width="603" height="21" fill="url(#ga21)"/><rect x="121" y="423" width="603" height="21" fill="url(#ga22)"/><rect x="121" y="443" width="603" height="21" fill="url(#ga23)"/><rect x="121" y="463" width="603" height="21" fill="url(#ga24)"/><rect x="121" y="483" width="603" height="21" fill="url(#ga25)"/><rect x="121" y="503" width="603" height="21" fill="url(#ga26)"/><rect x="121" y="523" width="603" height="21" fill="url(#ga27)"/><rect x="121" y="543" width="603" height="21" fill="url(#ga28)"/><rect x="121" y="563" width="603" height="21" fill="url(#ga29)"/><rect x="121" y="583" width="603" height="21" fill="url(#ga30)"/><rect x="121" y="603" width="603" height="21" fill="url(#ga31)"/><rect x="121" y="623" width="603" height="21" fill="url(#ga32)"/></g></g>
<defs><filter id="fb" filterUnits="userSpaceOnUse" x="-60" y="-60" width="1120" height="1120" color-interpolation-filters="sRGB"><feGaussianBlur stdDeviation="16"/><feComponentTransfer><feFuncR type="table" tableValues="0 1 1"/><feFuncG type="table" tableValues="0 1 0"/><feFuncB type="table" tableValues="1 1 0"/></feComponentTransfer></filter><clipPath id="cb"><rect x="123" y="642.5" width="603" height="603"/></clipPath></defs><g clip-path="url(#cb)"><g transform="translate(120 640) scale(0.6101)"><g filter="url(#fb)"><rect x="-50" y="-50" width="1100" height="1100" fill="#959595"/><path d="M800 60 740 180 690 300" fill="none" stroke="#787878" stroke-width="70" stroke-linecap="round" stroke-linejoin="round"/><ellipse cx="590" cy="380" rx="70" ry="140" fill="#828282" transform="rotate(15 590 380)"/><ellipse cx="540" cy="200" rx="40" ry="60" fill="#868686"/><ellipse cx="215" cy="200" rx="30" ry="25" fill="#b0b0b0"/><ellipse cx="300" cy="65" rx="30" ry="25" fill="#a8a8a8"/><ellipse cx="460" cy="30" rx="40" ry="10" fill="#797979"/><ellipse cx="470" cy="85" rx="30" ry="12" fill="#797979"/><ellipse cx="485" cy="160" rx="25" ry="12" fill="#797979"/><ellipse cx="440" cy="240" rx="25" ry="10" fill="#868686"/><ellipse cx="520" cy="450" rx="20" ry="20" fill="#797979"/><ellipse cx="330" cy="380" rx="75" ry="45" fill="#a2a2a2" transform="rotate(-35 330 380)"/><ellipse cx="360" cy="590" rx="65" ry="40" fill="#aaaaaa" transform="rotate(-45 360 590)"/><ellipse cx="330" cy="730" rx="60" ry="38" fill="#aaaaaa" transform="rotate(-30 330 730)"/><ellipse cx="430" cy="690" rx="15" ry="15" fill="#737373"/><ellipse cx="560" cy="30" rx="70" ry="20" fill="#9f9f9f"/><path d="M90 8 260 8" fill="none" stroke="#d2d2d2" stroke-width="16" stroke-linecap="round" stroke-linejoin="round"/><ellipse cx="110" cy="80" rx="100" ry="70" fill="#7c7c7c"/><path d="M5 20 20 250" fill="none" stroke="#797979" stroke-width="30" stroke-linecap="round" stroke-linejoin="round"/><path d="M-15 250 -5 330 5 393" fill="none" stroke="#a6a6a6" stroke-width="60" stroke-linecap="round" stroke-linejoin="round"/><path d="M5 393 45 590 95 738 135 860 172 942 190 1000" fill="none" stroke="#cccccc" stroke-width="110" stroke-linecap="round" stroke-linejoin="round"/><path d="M110 780 139 870 165 940" fill="none" stroke="#f5f5f5" stroke-width="65" stroke-linecap="round" stroke-linejoin="round"/><path d="M0 740 30 830 55 900" fill="none" stroke="#636363" stroke-width="45" stroke-linecap="round" stroke-linejoin="round"/><path d="M60 175 80 197 98 295 126 393 162 492 190 590 205 689 218 787 230 830" fill="none" stroke="#545454" stroke-width="96" stroke-linecap="round" stroke-linejoin="round"/><path d="M110 350 126 393 162 492 190 590 205 689 215 760" fill="none" stroke="#4a4a4a" stroke-width="45" stroke-linecap="round" stroke-linejoin="round"/><path d="M250 820 330 850 400 830" fill="none" stroke="#797979" stroke-width="40" stroke-linecap="round" stroke-linejoin="round"/><ellipse cx="350" cy="880" rx="60" ry="25" fill="#6c6c6c"/><ellipse cx="340" cy="945" rx="60" ry="18" fill="#404040"/><ellipse cx="300" cy="988" rx="75" ry="12" fill="#191919"/><path d="M520 640 500 720 480 800 460 880 450 960" fill="none" stroke="#bfbfbf" stroke-width="65" stroke-linecap="round" stroke-linejoin="round"/><ellipse cx="515" cy="690" rx="35" ry="45" fill="#c9c9c9"/><path d="M960 30 921 51 883 152 817 254 779 356 743 457 715 559 692 660 662 762 624 864 575 965 560 1000" fill="none" stroke="#3d3d3d" stroke-width="128" stroke-linecap="round" stroke-linejoin="round"/><path d="M817 254 779 356 743 457 715 559 692 660 662 762 624 864 590 940" fill="none" stroke="#2b2b2b" stroke-width="88" stroke-linecap="round" stroke-linejoin="round"/><path d="M705 600 692 660 662 762 635 860" fill="none" stroke="#000000" stroke-width="70" stroke-linecap="round" stroke-linejoin="round"/><ellipse cx="930" cy="80" rx="60" ry="35" fill="#202020"/><path d="M1010 200 970 246 960 360 951 475 931 606 885 688 836 762 770 852 705 942 672 1000" fill="none" stroke="#a6a6a6" stroke-width="110" stroke-linecap="round" stroke-linejoin="round"/><path d="M940 580 920 630 885 688" fill="none" stroke="#dbdbdb" stroke-width="80" stroke-linecap="round" stroke-linejoin="round"/><path d="M836 762 770 852" fill="none" stroke="#b9b9b9" stroke-width="60" stroke-linecap="round" stroke-linejoin="round"/><path d="M1010 700 992 713 934 820 869 893 795 942 738 1000" fill="none" stroke="#4f4f4f" stroke-width="80" stroke-linecap="round" stroke-linejoin="round"/><ellipse cx="1000" cy="730" rx="30" ry="40" fill="#393939"/><ellipse cx="790" cy="945" rx="35" ry="15" fill="#2d2d2d"/><path d="M850 1010 870 920 930 860 1010 840 1010 1010 Z" fill="#e3e3e3"/><ellipse cx="975" cy="920" rx="30" ry="50" fill="#f5f5f5"/><path d="M0 985 260 985" fill="none" stroke="#dfdfdf" stroke-width="22" stroke-linecap="round" stroke-linejoin="round"/></g></g></g>
<defs><filter id="fc" filterUnits="userSpaceOnUse" x="-60" y="-60" width="1120" height="1120" color-interpolation-filters="sRGB"><feGaussianBlur stdDeviation="11"/><feComponentTransfer><feFuncR type="table" tableValues="0 1 1"/><feFuncG type="table" tableValues="0 1 0"/><feFuncB type="table" tableValues="1 1 0"/></feComponentTransfer></filter><clipPath id="cc"><rect x="126" y="1280.3" width="603" height="602"/></clipPath></defs><g clip-path="url(#cc)"><g transform="translate(120 1270) scale(0.62)"><g filter="url(#fc)"><rect x="-50" y="-50" width="1100" height="1100" fill="#9e9e9e"/><ellipse cx="60" cy="30" rx="80" ry="15" fill="#acacac" transform="rotate(-10 60 30)"/><path d="M0 72 155 31 232 15 330 -5" fill="none" stroke="#606060" stroke-width="22" stroke-linecap="round" stroke-linejoin="round"/><path d="M0 125 250 75 500 25 700 -15" fill="none" stroke="#8f8f8f" stroke-width="30" stroke-linecap="round" stroke-linejoin="round"/><path d="M0 195 250 137 500 79 640 47 740 24" fill="none" stroke="#f9f9f9" stroke-width="64" stroke-linecap="round" stroke-linejoin="round"/><path d="M740 24 850 0 1000 -35" fill="none" stroke="#bfbfbf" stroke-width="50" stroke-linecap="round" stroke-linejoin="round"/><path d="M0 238 258 196 516 150 800 90 1000 50" fill="none" stroke="#808080" stroke-width="18" stroke-linecap="round" stroke-linejoin="round"/><path d="M0 288 258 243 516 196 700 160" fill="none" stroke="#d9d9d9" stroke-width="50" stroke-linecap="round" stroke-linejoin="round"/><path d="M700 160 1000 110" fill="none" stroke="#acacac" stroke-width="40" stroke-linecap="round" stroke-linejoin="round"/><path d="M0 366 250 310 500 238 750 172 1000 110" fill="none" stroke="#666666" stroke-width="18" stroke-linecap="round" stroke-linejoin="round"/><path d="M0 408 258 356 500 292 700 245" fill="none" stroke="#bfbfbf" stroke-width="46" stroke-linecap="round" stroke-linejoin="round"/><ellipse cx="98" cy="448" rx="68" ry="14" fill="#4f4f4f" transform="rotate(-13 98 448)"/><ellipse cx="340" cy="390" rx="65" ry="13" fill="#535353" transform="rotate(-13 340 390)"/><path d="M0 505 258 465 400 435 516 400" fill="none" stroke="#bfbfbf" stroke-width="50" stroke-linecap="round" stroke-linejoin="round"/><path d="M0 590 250 550 430 515" fill="none" stroke="#868686" stroke-width="18" stroke-linecap="round" stroke-linejoin="round"/><ellipse cx="510" cy="531" rx="75" ry="17" fill="#575757" transform="rotate(-25 510 531)"/><ellipse cx="200" cy="680" rx="200" ry="60" fill="#a1a1a1" transform="rotate(-15 200 680)"/><path d="M0 842 175 792 350 742 450 712" fill="none" stroke="#636363" stroke-width="22" stroke-linecap="round" stroke-linejoin="round"/><path d="M0 1000 50 950 200 870 350 770 500 675 600 590 700 520 850 460 1000 400" fill="none" stroke="#cfcfcf" stroke-width="70" stroke-linecap="round" stroke-linejoin="round"/><ellipse cx="350" cy="762" rx="55" ry="25" fill="#ececec" transform="rotate(-32 350 762)"/><ellipse cx="650" cy="530" rx="60" ry="25" fill="#ececec" transform="rotate(-32 650 530)"/><ellipse cx="430" cy="935" rx="130" ry="55" fill="#b5b5b5" transform="rotate(-25 430 935)"/><ellipse cx="15" cy="940" rx="25" ry="60" fill="#808080"/><ellipse cx="240" cy="975" rx="45" ry="22" fill="#e6e6e6"/><path d="M879 106 981 72 1010 62" fill="none" stroke="#636363" stroke-width="18" stroke-linecap="round" stroke-linejoin="round"/><ellipse cx="800" cy="250" rx="180" ry="90" fill="#b0b0b0" transform="rotate(-25 800 250)"/><ellipse cx="560" cy="200" rx="60" ry="25" fill="#868686" transform="rotate(-15 560 200)"/><ellipse cx="625" cy="195" rx="30" ry="10" fill="#666666" transform="rotate(-20 625 195)"/><path d="M680 370 766 340 865 292 1000 230" fill="none" stroke="#868686" stroke-width="16" stroke-linecap="round" stroke-linejoin="round"/><ellipse cx="720" cy="580" rx="130" ry="45" fill="#bfbfbf" transform="rotate(-30 720 580)"/><path d="M560 560 710 452 850 370 1010 280" fill="none" stroke="#dfdfdf" stroke-width="52" stroke-linecap="round" stroke-linejoin="round"/><path d="M600 640 734 548 850 495 1010 425" fill="none" stroke="#dbdbdb" stroke-width="56" stroke-linecap="round" stroke-linejoin="round"/><ellipse cx="760" cy="430" rx="70" ry="30" fill="#e6e6e6" transform="rotate(-27 760 430)"/><ellipse cx="880" cy="500" rx="60" ry="25" fill="#d9d9d9" transform="rotate(-27 880 500)"/><path d="M540 775 581 766 621 758 702 780 774 760 826 739 880 690 930 630 981 560 1010 530" fill="none" stroke="#808080" stroke-width="16" stroke-linecap="round" stroke-linejoin="round"/><path d="M870 680 925 618 976 548 1010 518" fill="none" stroke="#666666" stroke-width="14" stroke-linecap="round" stroke-linejoin="round"/><ellipse cx="605" cy="742" rx="38" ry="15" fill="#606060" transform="rotate(-25 605 742)"/><path d="M480 910 650 830 800 760 1000 650" fill="none" stroke="#bfbfbf" stroke-width="60" stroke-linecap="round" stroke-linejoin="round"/><ellipse cx="755" cy="850" rx="40" ry="25" fill="#ececec" transform="rotate(-30 755 850)"/><path d="M760 985 860 915 1010 825" fill="none" stroke="#808080" stroke-width="14" stroke-linecap="round" stroke-linejoin="round"/><path d="M800 1005 900 932 1010 860" fill="none" stroke="#404040" stroke-width="66" stroke-linecap="round" stroke-linejoin="round"/><ellipse cx="905" cy="930" rx="50" ry="20" fill="#292929" transform="rotate(-35 905 930)"/></g></g></g>
<defs>
<linearGradient id="cba" x1="0" y1="0" x2="0" y2="1">
<stop offset="0" stop-color="#F8F6F6"/>
<stop offset="0.069" stop-color="#EFE8E7"/>
<stop offset="0.145" stop-color="#E0D0CD"/>
<stop offset="0.221" stop-color="#C9AEA9"/>
<stop offset="0.272" stop-color="#B8948E"/>
<stop offset="0.332" stop-color="#A47C74"/>
<stop offset="0.399" stop-color="#8E5C4E"/>
<stop offset="0.45" stop-color="#A8805E"/>
<stop offset="0.488" stop-color="#C2A46C"/>
<stop offset="0.553" stop-color="#E0CC80"/>
<stop offset="0.599" stop-color="#F8F488"/>
<stop offset="0.63" stop-color="#F0F890"/>
<stop offset="0.667" stop-color="#D0F090"/>
<stop offset="0.708" stop-color="#A8E88C"/>
<stop offset="0.746" stop-color="#80E080"/>
<stop offset="0.785" stop-color="#50D870"/>
<stop offset="0.823" stop-color="#20D060"/>
<stop offset="0.845" stop-color="#10CC60"/>
<stop offset="0.863" stop-color="#10B890"/>
<stop offset="0.888" stop-color="#1098E8"/>
<stop offset="0.914" stop-color="#2078E0"/>
<stop offset="0.94" stop-color="#2858C0"/>
<stop offset="0.965" stop-color="#3048A8"/>
<stop offset="1" stop-color="#383C98"/>
</linearGradient>
<linearGradient id="cbr" x1="0" y1="0" x2="0" y2="1">
<stop offset="0" stop-color="#FF0000"/>
<stop offset="0.5" stop-color="#FFFFFF"/>
<stop offset="1" stop-color="#0000FF"/>
</linearGradient>
</defs>
<rect x="752" y="4" width="27" height="606" fill="url(#cba)"/>
<rect x="752" y="641" width="27" height="606" fill="url(#cbr)"/>
<rect x="753" y="1278" width="27" height="604" fill="url(#cbr)"/>

<!-- PANEL C OVERLAYS -->
<line x1="136.5" y1="1409" x2="624" y2="1286" stroke="#000" stroke-width="0.8" opacity="0.6"/>
<line x1="136.5" y1="1409" x2="624" y2="1286" stroke="#000" stroke-width="8" stroke-dasharray="57.5 14.2 8 14.2"/>
<line x1="305.5" y1="1870" x2="721.5" y2="1286" stroke="#000" stroke-width="8" stroke-dasharray="49.5 8.5" stroke-dashoffset="29.5"/>
<line x1="204" y1="1870" x2="723.8" y2="1436.6" stroke="#0000FF" stroke-width="9" stroke-dasharray="54 7.5" stroke-dashoffset="48"/>
<circle cx="449.2" cy="1666.8" r="9.5" fill="#fff" stroke="#0A10D0" stroke-width="2.6"/>
<path d="M659.2 1393.6 Q681 1394 691.2 1415.2" fill="none" stroke="#000" stroke-width="2.8"/>
<path d="M698 1435.2 L681.2 1412.4 L691.2 1415.2 L695.6 1407.6 Z" fill="#000"/>
<path d="M300.8 1874.4 Q275 1870 267.2 1852" fill="none" stroke="#000" stroke-width="2.8"/>
<path d="M261.1 1833.6 L263.2 1860 L267.2 1852 L276.8 1852.8 Z" fill="#000"/>
<text font-size="48" transform="translate(198.4,1445.5) rotate(-15.9)">Coulomb blockade</text>
<text font-size="48" transform="translate(507,1530) rotate(-54.5)">d<tspan font-size="36" dy="14">tip</tspan><tspan dy="-14"> = 50 nm</tspan></text>
<text font-size="48" style="fill:#0000FF" transform="translate(185,1841) rotate(-40)">d<tspan font-size="36" dx="1" dy="15">tip</tspan><tspan dy="-15"> = 140 nm</tspan></text>
<text font-size="48.5" transform="translate(379.5,1874) rotate(-59.5)">1D cavity</text>
<!-- FRAMES -->
<g fill="none" stroke="#000" stroke-width="3">
<rect x="119.5" y="1.5" width="606" height="605.5"/>
<rect x="121.5" y="641" width="606" height="605.8"/>
<rect x="124.5" y="1278.8" width="606" height="605.3"/>
<rect x="750.8" y="2.7" width="28.7" height="608.5"/>
<rect x="751" y="639.5" width="28.5" height="608.2"/>
<rect x="752" y="1277" width="28.7" height="605.8"/>
</g>
<!-- TICKS -->
<g stroke="#000" stroke-width="3" fill="none">
<path d="M214.7 3v15M422.6 3v15M629.6 3v15M214.7 606v-15M422.6 606v-15M629.6 606v-15M121 220.4h15M121 501.2h15M724 220.4h-15M724 501.2h-15"/>
<path d="M216.6 642.5v15M424 642.5v15M631.4 642.5v15M216.6 1245.5v-15M424 1245.5v-15M631.4 1245.5v-15M123 860.3h15M123 1141.5h15M726 860.3h-15M726 1141.5h-15"/>
<path d="M219.6 1280.3v15M426.5 1280.3v15M635 1280.3v15M219.6 1882.5v-15M426.5 1882.5v-15M635 1882.5v-15M126 1395.6h15M126 1519h15M126 1642h15M126 1765.3h15M729 1395.6h-15M729 1519h-15M729 1642h-15M729 1765.3h-15"/>
<path d="M781 205.3h14M781 408.3h14M781 702.6h14M781 943h14M781 1184.4h14M782 1279.5h14M782 1579.5h14M782 1879.6h14"/>
</g>
<!-- TEXT -->
<text class="ti" x="150" y="70">a)</text>
<text class="ti" x="152" y="709">b)</text>
<text class="ti" x="155" y="1339">c)</text>

<text class="tl" text-anchor="middle" transform="translate(105.7,220.4) rotate(-90)">100</text>
<text class="tl" text-anchor="middle" transform="translate(106.5,501.2) rotate(-90)">50</text>
<text class="tl" text-anchor="middle" transform="translate(105.7,860.3) rotate(-90)">100</text>
<text class="tl" text-anchor="middle" transform="translate(106.5,1141.5) rotate(-90)">50</text>
<text class="tl" text-anchor="middle" transform="translate(111,1395.6) rotate(-90)">2.0</text>
<text class="tl" text-anchor="middle" transform="translate(111,1519) rotate(-90)">2.2</text>
<text class="tl" text-anchor="middle" transform="translate(111,1642) rotate(-90)">2.4</text>
<text class="tl" text-anchor="middle" transform="translate(111,1765.3) rotate(-90)">2.6</text>

<text class="tl" text-anchor="middle" x="219.6" y="1932">-5</text>
<text class="tl" text-anchor="middle" x="426.5" y="1932">0</text>
<text class="tl" text-anchor="middle" x="635" y="1932">5</text>

<text class="tl" x="810" y="217">3.2</text>
<text class="tl" x="810" y="421">3.0</text>
<text class="tl" x="810" y="719">0.002</text>
<text class="tl" x="810" y="959">0.0</text>
<text class="tl" x="810" y="1200">-0.002</text>
<text class="tl" x="810" y="1298">0.1</text>
<text class="tl" x="810" y="1596">0.0</text>
<text class="tl" x="810" y="1899">-0.1</text>

<!-- axis titles -->
<text class="ti" transform="translate(44.5,397) rotate(-90)"><tspan class="it">d</tspan><tspan class="it" font-size="42" dy="14">tip</tspan><tspan dy="-14"> [nm]</tspan></text>
<text class="ti" transform="translate(44.5,1034) rotate(-90)"><tspan class="it">d</tspan><tspan class="it" font-size="42" dy="14">tip</tspan><tspan dy="-14"> [nm]</tspan></text>
<text class="ti" transform="translate(47.5,1676) rotate(-90)"><tspan class="it">V</tspan><tspan class="it" font-size="42" dy="14">BG</tspan><tspan dy="-14"> [V]</tspan></text>
<text class="ti" x="342" y="1991"><tspan class="it">V</tspan><tspan class="it" font-size="42" dy="14">tip</tspan><tspan dy="-14"> [V]</tspan></text>

<text class="ti" transform="translate(930,187.5) rotate(90)">G [2e<tspan font-size="42" dx="1" dy="-41">2</tspan><tspan dy="41">/h]</tspan></text>
<text class="ti it" transform="translate(926,840) rotate(90)">dG/dd<tspan font-size="42" dy="14">tip</tspan></text>
<text class="ti it" transform="translate(926,1470) rotate(90)">dG/dV<tspan font-size="42" dy="14">tip</tspan></text>
</svg>
</body></html>
